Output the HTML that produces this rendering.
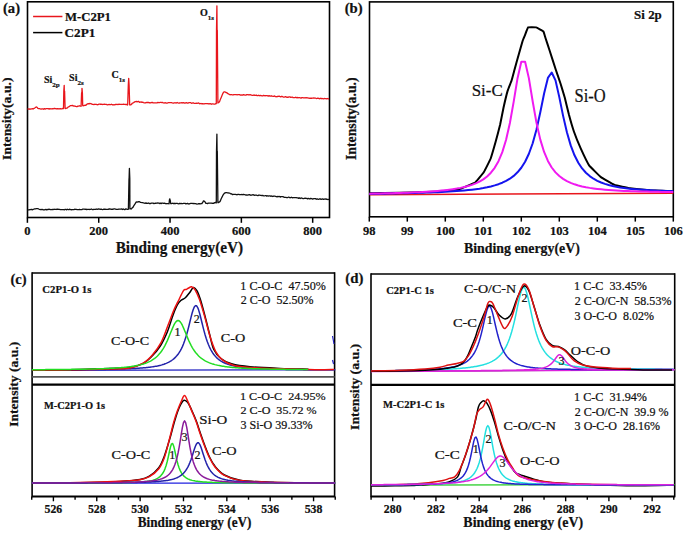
<!DOCTYPE html>
<html><head><meta charset="utf-8"><style>
html,body{margin:0;padding:0;background:#fff;}
svg{display:block;font-family:"Liberation Serif",serif;}
text{fill:#111;stroke:#111;stroke-width:0.22px;}
</style></head><body>
<svg width="685" height="533" viewBox="0 0 685 533">
<rect width="685" height="533" fill="#fff"/>
<rect x="27.5" y="1.8" width="302.0" height="215.7" fill="none" stroke="#000" stroke-width="1.6"/>
<line x1="27.40" y1="217.5" x2="27.40" y2="222.8" stroke="#000" stroke-width="1.5"/>
<text x="27.40" y="234.80" font-size="12.5" font-weight="bold" text-anchor="middle" >0</text>
<line x1="98.72" y1="217.5" x2="98.72" y2="222.8" stroke="#000" stroke-width="1.5"/>
<text x="98.72" y="234.80" font-size="12.5" font-weight="bold" text-anchor="middle" >200</text>
<line x1="170.04" y1="217.5" x2="170.04" y2="222.8" stroke="#000" stroke-width="1.5"/>
<text x="170.04" y="234.80" font-size="12.5" font-weight="bold" text-anchor="middle" >400</text>
<line x1="241.36" y1="217.5" x2="241.36" y2="222.8" stroke="#000" stroke-width="1.5"/>
<text x="241.36" y="234.80" font-size="12.5" font-weight="bold" text-anchor="middle" >600</text>
<line x1="312.68" y1="217.5" x2="312.68" y2="222.8" stroke="#000" stroke-width="1.5"/>
<text x="312.68" y="234.80" font-size="12.5" font-weight="bold" text-anchor="middle" >800</text>
<text x="115.65" y="252.70" font-size="15.91" font-weight="bold" textLength="127.52" lengthAdjust="spacingAndGlyphs">Binding&#160;energy(eV)</text>
<line x1="33.1" y1="16.5" x2="62.4" y2="16.5" stroke="#e8161c" stroke-width="1.5"/>
<line x1="33.1" y1="32.6" x2="62.4" y2="32.6" stroke="#000" stroke-width="1.5"/>
<text x="64.98" y="21.00" font-size="12.42" font-weight="bold" textLength="45.98" lengthAdjust="spacingAndGlyphs">M-C2P1</text>
<text x="64.56" y="36.90" font-size="12.42" font-weight="bold" textLength="30.72" lengthAdjust="spacingAndGlyphs">C2P1</text>
<text x="43.90" y="83.10" font-size="10" font-weight="bold">Si<tspan font-size="7" dy="4">2p</tspan></text>
<text x="69.10" y="81.40" font-size="10" font-weight="bold">Si<tspan font-size="7" dy="4">2s</tspan></text>
<text x="111.60" y="78.30" font-size="10" font-weight="bold">C<tspan font-size="7" dy="4">1s</tspan></text>
<text x="199.90" y="16.40" font-size="10" font-weight="bold">O<tspan font-size="7" dy="4">1s</tspan></text>
<polyline points="27.50,210.10 28.30,209.91 29.10,209.81 29.90,209.53 30.70,209.49 31.50,209.37 32.30,209.79 33.10,209.43 33.90,209.19 34.70,208.78 35.50,208.94 36.30,208.70 37.10,208.57 37.90,208.61 38.70,209.01 39.50,209.38 40.30,209.57 41.10,209.36 41.90,209.56 42.70,209.43 43.50,209.92 44.30,209.93 45.10,209.63 45.90,209.42 46.70,209.92 47.50,209.46 48.30,209.49 49.10,209.24 49.90,209.50 50.70,209.57 51.50,209.58 52.30,209.37 53.10,209.58 53.90,209.23 54.70,209.40 55.50,209.28 56.30,209.49 57.10,209.24 57.90,209.22 58.70,209.41 59.50,209.36 60.30,209.60 61.10,209.56 61.90,209.71 62.70,209.64 63.50,209.68 64.30,209.79 65.10,209.44 65.90,209.39 66.70,209.85 67.50,209.26 68.30,209.66 69.10,209.59 69.90,209.17 70.70,209.72 71.50,209.75 72.30,209.56 73.10,209.63 73.90,209.68 74.70,209.20 75.50,209.47 76.30,209.45 77.10,209.68 77.90,209.65 78.70,209.66 79.50,209.48 80.30,209.69 81.10,209.54 81.90,209.54 82.70,209.21 83.50,209.07 84.30,209.13 85.10,209.29 85.90,209.10 86.70,209.61 87.50,209.41 88.30,209.45 89.10,209.45 89.90,209.48 90.70,209.34 91.50,208.99 92.30,209.54 93.10,209.50 93.90,209.33 94.70,209.35 95.50,209.43 96.30,209.01 97.10,209.47 97.90,209.13 98.70,209.00 99.50,209.13 100.30,209.45 101.10,209.07 101.90,209.44 102.70,209.61 103.50,209.26 104.30,209.18 105.10,209.24 105.90,209.38 106.70,209.44 107.50,209.33 108.30,209.34 109.10,208.94 109.90,208.99 110.70,209.06 111.50,209.40 112.30,209.09 113.10,209.27 113.90,208.88 114.70,208.91 115.50,209.05 116.30,209.33 117.10,209.35 117.90,209.33 118.70,209.06 119.50,209.22 120.30,209.18 121.10,209.18 121.90,208.94 122.70,209.48 123.50,208.99 124.30,209.54 125.10,209.51 125.90,208.86 126.70,209.15 127.50,209.34 128.30,209.35 128.40,208.98 129.00,178.52 129.10,178.52 129.40,168.40 129.80,178.52 129.90,208.91 130.40,208.57 130.70,208.82 131.50,208.98 132.30,207.72 133.10,207.11 133.90,205.56 134.70,204.47 135.50,203.13 136.30,201.94 137.10,202.08 137.90,201.83 138.70,201.62 139.50,201.76 140.30,202.30 141.10,202.48 141.90,202.58 142.70,202.66 143.50,202.96 144.30,203.04 145.10,203.44 145.90,202.85 146.70,203.38 147.50,203.44 148.30,202.94 149.10,203.51 149.90,203.37 150.70,203.50 151.50,203.08 152.30,203.15 153.10,203.17 153.90,203.60 154.70,203.32 155.50,203.17 156.30,203.23 157.10,203.13 157.90,202.98 158.70,203.03 159.50,203.55 160.30,203.18 161.10,203.65 161.90,203.18 162.70,203.20 163.50,203.39 164.30,203.17 165.10,203.31 165.90,203.73 166.70,203.69 167.50,203.66 168.30,203.54 168.80,203.75 169.10,203.77 169.40,199.97 169.80,198.80 169.90,199.97 170.20,199.97 170.70,203.45 170.80,203.66 171.50,203.60 172.30,203.35 173.10,203.20 173.90,203.82 174.70,203.27 175.50,203.52 176.30,203.44 177.10,203.42 177.90,203.73 178.70,203.91 179.50,203.41 180.30,203.69 181.10,203.45 181.90,203.63 182.70,203.52 183.50,203.37 184.30,203.36 185.10,203.40 185.90,203.89 186.70,203.61 187.50,203.42 188.30,203.91 189.10,203.98 189.90,203.62 190.70,203.41 191.50,203.46 192.30,203.41 193.10,203.60 193.90,203.44 194.70,203.56 195.50,203.59 196.30,203.82 197.10,204.05 197.90,203.96 198.70,203.73 199.50,203.74 200.30,203.80 201.10,203.60 201.90,203.49 202.70,202.45 203.50,200.91 204.30,201.10 205.10,201.95 205.90,203.38 206.70,203.48 207.50,203.62 208.30,203.12 209.10,203.11 209.90,203.03 210.70,203.08 211.50,203.05 212.30,203.36 213.10,203.26 213.90,203.26 214.70,202.62 215.50,202.49 215.90,202.88 216.30,202.92 216.50,151.20 216.90,134.10 217.10,151.20 217.30,151.20 217.90,202.63 218.70,202.50 219.50,202.01 220.30,201.02 221.10,199.07 221.90,197.34 222.70,195.71 223.50,194.46 224.30,193.39 225.10,192.90 225.90,192.67 226.70,192.70 227.50,192.93 228.30,192.91 229.10,193.21 229.90,193.11 230.70,193.90 231.50,193.77 232.30,194.48 233.10,194.48 233.90,194.38 234.70,194.33 235.50,194.43 236.30,194.70 237.10,194.75 237.90,194.34 238.70,194.32 239.50,194.65 240.30,194.70 241.10,194.58 241.90,194.48 242.70,194.76 243.50,194.36 244.30,194.59 245.10,194.72 245.90,195.09 246.70,194.90 247.50,195.09 248.30,194.83 249.10,194.69 249.90,194.73 250.70,195.26 251.50,195.11 252.30,194.87 253.10,194.71 253.90,195.08 254.70,195.24 255.50,195.10 256.30,195.03 257.10,195.35 257.90,195.58 258.70,195.13 259.50,195.04 260.30,195.30 261.10,195.40 261.90,195.63 262.70,195.34 263.50,195.81 264.30,195.82 265.10,195.71 265.90,195.55 266.70,196.13 267.50,195.73 268.30,196.14 269.10,195.78 269.90,195.82 270.70,196.26 271.50,195.99 272.30,196.50 273.10,196.24 273.90,196.08 274.70,196.16 275.50,196.35 276.30,196.58 277.10,196.84 277.90,196.34 278.70,196.57 279.50,196.50 280.30,197.09 281.10,196.57 281.90,196.56 282.70,196.62 283.50,196.92 284.30,197.33 285.10,197.38 285.90,197.33 286.70,197.57 287.50,197.58 288.30,197.22 289.10,197.18 289.90,197.76 290.70,197.68 291.50,197.24 292.30,197.74 293.10,197.59 293.90,197.65 294.70,197.67 295.50,197.61 296.30,197.55 297.10,197.79 297.90,197.90 298.70,198.37 299.50,197.84 300.30,198.48 301.10,198.00 301.90,198.15 302.70,198.53 303.50,198.57 304.30,198.35 305.10,198.12 305.90,198.46 306.70,198.44 307.50,198.86 308.30,198.39 309.10,198.55 309.90,198.97 310.70,198.40 311.50,198.70 312.30,199.02 313.10,199.02 313.90,198.54 314.70,198.57 315.50,198.62 316.30,199.25 317.10,198.81 317.90,199.18 318.70,199.31 319.50,198.94 320.30,198.92 321.10,199.42 321.90,199.20 322.70,198.97 323.50,199.30 324.30,199.03 325.10,199.01 325.90,198.83 326.70,199.37 327.50,199.49 328.30,199.29 329.10,199.51" fill="none" stroke="#111" stroke-width="1.3" stroke-linejoin="round" />
<polyline points="27.50,109.08 28.30,108.94 29.10,109.26 29.90,108.82 30.70,109.10 31.50,108.94 32.30,108.70 33.10,109.00 33.90,108.41 34.70,108.16 35.50,107.34 36.30,106.97 37.10,107.28 37.90,108.33 38.70,108.56 39.50,108.71 40.30,108.99 41.10,109.21 41.90,108.95 42.70,108.82 43.50,109.22 44.30,108.57 45.10,109.13 45.90,108.73 46.70,108.62 47.50,108.60 48.30,108.72 49.10,109.07 49.90,108.62 50.70,108.90 51.50,108.93 52.30,108.74 53.10,108.86 53.90,108.51 54.70,108.51 55.50,108.61 56.30,108.93 57.10,108.75 57.90,108.67 58.70,108.86 59.50,108.77 60.30,108.65 61.10,108.95 61.90,108.80 62.70,108.43 63.20,108.65 63.50,108.60 63.80,91.11 64.20,85.30 64.30,91.11 64.60,91.11 65.10,108.18 65.20,108.38 65.90,108.58 66.70,108.01 67.50,107.79 68.30,106.84 69.10,106.59 69.90,106.05 70.70,105.53 71.50,105.67 72.30,105.39 73.10,105.85 73.90,106.00 74.70,106.19 75.50,106.24 76.30,106.53 77.10,106.56 77.90,106.14 78.70,106.19 79.50,105.71 80.30,106.14 81.00,106.07 81.10,106.31 81.60,92.70 81.90,92.70 82.00,88.30 82.40,92.70 82.70,105.52 83.00,105.80 83.50,105.58 84.30,105.51 85.10,105.22 85.90,105.28 86.70,104.31 87.50,103.90 88.30,103.64 89.10,103.86 89.90,103.36 90.70,103.72 91.50,103.94 92.30,104.33 93.10,104.43 93.90,104.58 94.70,104.24 95.50,104.34 96.30,104.30 97.10,104.67 97.90,104.73 98.70,104.16 99.50,104.18 100.30,104.23 101.10,104.23 101.90,104.41 102.70,104.49 103.50,104.27 104.30,104.10 105.10,104.39 105.90,104.37 106.70,104.51 107.50,104.79 108.30,104.61 109.10,104.50 109.90,104.58 110.70,104.63 111.50,104.20 112.30,104.80 113.10,104.72 113.90,104.79 114.70,104.75 115.50,104.47 116.30,104.48 117.10,104.28 117.90,104.66 118.70,104.27 119.50,104.27 120.30,104.38 121.10,104.35 121.90,104.48 122.70,104.28 123.50,104.25 124.30,104.35 125.10,104.32 125.90,104.50 126.70,104.30 127.50,104.99 127.70,104.84 128.30,84.95 128.70,78.30 129.10,84.95 129.70,104.90 129.90,104.74 130.70,104.97 131.50,104.35 132.30,103.25 133.10,102.98 133.90,102.41 134.70,101.88 135.50,101.59 136.30,101.44 137.10,101.87 137.90,101.48 138.70,101.48 139.50,102.25 140.30,102.09 141.10,101.95 141.90,102.36 142.70,102.11 143.50,102.55 144.30,102.92 145.10,102.85 145.90,102.74 146.70,102.43 147.50,102.51 148.30,102.37 149.10,102.80 149.90,102.63 150.70,102.81 151.50,102.49 152.30,102.42 153.10,102.84 153.90,102.96 154.70,102.88 155.50,102.85 156.30,102.86 157.10,102.81 157.90,102.46 158.70,102.67 159.50,102.56 160.30,102.34 161.10,102.34 161.90,102.52 162.70,102.51 163.50,102.82 164.30,103.01 165.10,102.66 165.90,103.01 166.70,103.05 167.50,103.04 168.30,102.63 169.10,102.53 169.90,102.54 170.70,102.53 171.50,102.54 172.30,102.84 173.10,103.04 173.90,103.00 174.70,102.75 175.50,102.88 176.30,102.99 177.10,102.49 177.90,102.90 178.70,103.07 179.50,102.99 180.30,102.97 181.10,102.78 181.90,102.57 182.70,103.00 183.50,102.68 184.30,103.01 185.10,103.13 185.90,102.73 186.70,102.74 187.50,103.14 188.30,103.00 189.10,102.63 189.90,102.63 190.70,102.68 191.50,103.24 192.30,103.20 193.10,102.78 193.90,103.30 194.70,103.45 195.50,103.27 196.30,103.10 197.10,103.29 197.90,103.04 198.70,103.01 199.50,103.73 200.30,103.55 201.10,103.52 201.90,103.85 202.70,103.55 203.50,103.90 204.30,103.92 205.10,103.53 205.90,103.60 206.70,103.67 207.50,103.66 208.30,103.94 209.10,103.74 209.90,103.88 210.70,103.70 211.50,104.26 212.30,103.89 213.10,103.97 213.90,104.06 214.70,104.22 215.50,103.69 215.90,103.92 216.30,103.51 216.50,30.19 216.90,5.80 217.10,30.19 217.30,30.19 217.90,102.98 218.70,102.47 219.50,101.82 220.30,99.61 221.10,97.75 221.90,95.82 222.70,93.83 223.50,92.29 224.30,91.82 225.10,91.96 225.90,92.49 226.70,92.55 227.50,93.47 228.30,93.81 229.10,94.25 229.90,94.79 230.70,94.61 231.50,94.65 232.30,94.79 233.10,94.90 233.90,94.58 234.70,94.70 235.50,94.64 236.30,94.65 237.10,94.79 237.90,94.64 238.70,94.71 239.50,94.69 240.30,95.03 241.10,94.88 241.90,95.02 242.70,95.09 243.50,94.63 244.30,94.87 245.10,95.16 245.90,95.11 246.70,94.65 247.50,94.66 248.30,94.92 249.10,94.69 249.90,94.83 250.70,94.75 251.50,95.20 252.30,95.31 253.10,95.42 253.90,94.94 254.70,95.37 255.50,95.37 256.30,95.04 257.10,95.60 257.90,95.69 258.70,95.21 259.50,95.76 260.30,95.42 261.10,95.52 261.90,95.91 262.70,95.84 263.50,95.42 264.30,95.65 265.10,95.75 265.90,95.67 266.70,95.62 267.50,95.75 268.30,96.08 269.10,95.63 269.90,96.05 270.70,96.02 271.50,95.77 272.30,96.04 273.10,96.29 273.90,96.26 274.70,95.99 275.50,96.68 276.30,96.59 277.10,96.77 277.90,96.21 278.70,96.37 279.50,96.26 280.30,96.83 281.10,96.52 281.90,96.47 282.70,96.72 283.50,97.11 284.30,97.10 285.10,96.75 285.90,96.72 286.70,97.31 287.50,97.11 288.30,97.25 289.10,96.87 289.90,96.89 290.70,97.38 291.50,97.24 292.30,97.04 293.10,97.69 293.90,97.52 294.70,97.69 295.50,97.23 296.30,97.81 297.10,97.30 297.90,97.90 298.70,97.66 299.50,97.62 300.30,97.81 301.10,98.11 301.90,97.68 302.70,97.63 303.50,97.94 304.30,97.78 305.10,97.72 305.90,97.79 306.70,97.75 307.50,97.89 308.30,98.00 309.10,98.03 309.90,98.38 310.70,98.08 311.50,98.25 312.30,98.06 313.10,98.20 313.90,98.00 314.70,98.19 315.50,98.05 316.30,98.57 317.10,98.46 317.90,98.23 318.70,98.45 319.50,98.79 320.30,98.23 321.10,98.74 321.90,98.49 322.70,98.54 323.50,98.79 324.30,98.49 325.10,98.58 325.90,98.72 326.70,98.93 327.50,98.49 328.30,98.83 329.10,98.74" fill="none" stroke="#e8161c" stroke-width="1.3" stroke-linejoin="round" />
<rect x="369.5" y="1.9" width="303.79999999999995" height="214.9" fill="none" stroke="#000" stroke-width="1.6"/>
<line x1="369.30" y1="216.8" x2="369.30" y2="221.60000000000002" stroke="#000" stroke-width="1.5"/>
<text x="369.30" y="234.80" font-size="12.5" font-weight="bold" text-anchor="middle" >98</text>
<line x1="407.30" y1="216.8" x2="407.30" y2="221.60000000000002" stroke="#000" stroke-width="1.5"/>
<text x="407.30" y="234.80" font-size="12.5" font-weight="bold" text-anchor="middle" >99</text>
<line x1="445.30" y1="216.8" x2="445.30" y2="221.60000000000002" stroke="#000" stroke-width="1.5"/>
<text x="445.30" y="234.80" font-size="12.5" font-weight="bold" text-anchor="middle" >100</text>
<line x1="483.30" y1="216.8" x2="483.30" y2="221.60000000000002" stroke="#000" stroke-width="1.5"/>
<text x="483.30" y="234.80" font-size="12.5" font-weight="bold" text-anchor="middle" >101</text>
<line x1="521.30" y1="216.8" x2="521.30" y2="221.60000000000002" stroke="#000" stroke-width="1.5"/>
<text x="521.30" y="234.80" font-size="12.5" font-weight="bold" text-anchor="middle" >102</text>
<line x1="559.30" y1="216.8" x2="559.30" y2="221.60000000000002" stroke="#000" stroke-width="1.5"/>
<text x="559.30" y="234.80" font-size="12.5" font-weight="bold" text-anchor="middle" >103</text>
<line x1="597.30" y1="216.8" x2="597.30" y2="221.60000000000002" stroke="#000" stroke-width="1.5"/>
<text x="597.30" y="234.80" font-size="12.5" font-weight="bold" text-anchor="middle" >104</text>
<line x1="635.30" y1="216.8" x2="635.30" y2="221.60000000000002" stroke="#000" stroke-width="1.5"/>
<text x="635.30" y="234.80" font-size="12.5" font-weight="bold" text-anchor="middle" >105</text>
<line x1="673.30" y1="216.8" x2="673.30" y2="221.60000000000002" stroke="#000" stroke-width="1.5"/>
<text x="673.30" y="234.80" font-size="12.5" font-weight="bold" text-anchor="middle" >106</text>
<text x="463.97" y="252.80" font-size="14.85" font-weight="bold" textLength="115.84" lengthAdjust="spacingAndGlyphs">Binding&#160;energy(eV)</text>
<text x="634.11" y="19.20" font-size="13.18" font-weight="bold" textLength="27.71" lengthAdjust="spacingAndGlyphs">Si&#160;2p</text>
<text x="471.67" y="95.80" font-size="17.27" font-weight="normal" textLength="31.07" lengthAdjust="spacingAndGlyphs">Si-C</text>
<text x="574.50" y="101.80" font-size="18.48" font-weight="normal" textLength="31.18" lengthAdjust="spacingAndGlyphs">Si-O</text>
<line x1="369.5" y1="194.8" x2="673.3" y2="193.2" stroke="#e8161c" stroke-width="1.6"/>
<path d="M369.50,193.30 C370.72,193.28 397.18,192.87 400.00,192.80 C402.82,192.73 437.59,191.66 440.00,191.50 C442.41,191.34 458.88,189.27 460.30,188.90 C461.72,188.53 474.56,182.88 475.50,182.20 C476.44,181.52 483.29,172.95 483.90,172.00 C484.51,171.05 490.23,159.72 490.70,158.50 C491.17,157.28 495.32,142.95 495.70,141.60 C496.08,140.25 499.79,126.05 500.10,124.70 C500.41,123.35 503.20,109.15 503.50,107.80 C503.80,106.45 507.28,91.98 507.60,90.90 C507.92,89.82 511.22,81.65 511.50,80.80 C511.78,79.95 514.22,70.73 514.50,69.70 C514.78,68.67 518.28,56.15 518.60,55.00 C518.92,53.85 522.35,41.78 522.60,41.00 C522.85,40.22 524.58,36.14 524.80,35.60 C525.02,35.06 527.65,27.73 528.10,27.40 C528.55,27.07 535.49,27.24 536.10,27.40 C536.71,27.56 543.03,31.09 543.40,31.50 C543.77,31.91 545.15,36.94 545.40,37.70 C545.65,38.46 549.18,49.22 549.60,50.50 C550.02,51.78 555.36,68.38 555.80,69.70 C556.24,71.02 560.14,82.38 560.50,83.50 C560.86,84.62 564.46,96.46 564.80,97.70 C565.14,98.94 568.54,113.25 568.90,114.60 C569.26,115.95 573.43,130.15 573.90,131.50 C574.37,132.85 580.09,147.05 580.70,148.40 C581.31,149.75 588.29,164.15 589.10,165.30 C589.91,166.45 599.88,176.32 600.90,177.10 C601.92,177.88 613.34,184.46 614.50,184.90 C615.66,185.34 628.58,187.99 630.00,188.20 C631.42,188.41 648.28,190.08 650.00,190.20 C651.72,190.32 672.08,191.16 673.00,191.20" fill="none" stroke="#000" stroke-width="2.0" stroke-linejoin="round"/>
<polyline points="369.30,193.90 373.10,193.84 376.90,193.78 380.70,193.71 384.50,193.64 388.30,193.57 392.10,193.50 395.90,193.42 399.70,193.34 403.50,193.25 407.30,193.16 411.10,193.06 414.90,192.96 418.70,192.85 422.50,192.73 426.30,192.60 430.10,192.46 433.90,192.31 437.70,192.15 441.50,191.97 445.30,191.77 449.10,191.56 452.90,191.32 456.70,191.06 460.50,190.77 464.30,190.44 468.10,190.07 471.90,189.66 475.70,189.18 479.50,188.64 483.30,188.01 487.10,187.28 490.90,186.42 494.70,185.40 498.50,184.18 502.30,182.71 506.10,180.92 509.90,178.69 513.70,175.90 517.50,172.34 521.30,167.74 525.10,161.73 528.90,153.78 532.70,143.23 536.50,129.45 540.30,112.33 544.10,93.52 547.90,77.91 551.70,72.51 555.50,80.39 559.30,97.15 563.10,115.86 566.90,132.32 570.70,145.38 574.50,155.31 578.30,162.79 582.10,168.44 585.90,172.76 589.70,176.10 593.50,178.73 597.30,180.82 601.10,182.51 604.90,183.88 608.70,185.01 612.50,185.96 616.30,186.75 620.10,187.42 623.90,187.99 627.70,188.48 631.50,188.90 635.30,189.26 639.10,189.58 642.90,189.86 646.70,190.11 650.50,190.33 654.30,190.52 658.10,190.69 661.90,190.84 665.70,190.98 669.50,191.10 673.30,191.20" fill="none" stroke="#1414ee" stroke-width="2.0" stroke-linejoin="round" />
<polyline points="369.30,193.69 373.10,193.61 376.90,193.53 380.70,193.44 384.50,193.35 388.30,193.25 392.10,193.15 395.90,193.04 399.70,192.92 403.50,192.79 407.30,192.65 411.10,192.50 414.90,192.33 418.70,192.15 422.50,191.95 426.30,191.72 430.10,191.48 433.90,191.20 437.70,190.90 441.50,190.55 445.30,190.15 449.10,189.70 452.90,189.18 456.70,188.58 460.50,187.88 464.30,187.04 468.10,186.05 471.90,184.86 475.70,183.40 479.50,181.59 483.30,179.33 487.10,176.45 490.90,172.72 494.70,167.79 498.50,161.18 502.30,152.16 506.10,139.79 509.90,123.02 513.70,101.63 517.50,78.42 521.30,61.81 525.10,61.79 528.90,78.36 532.70,101.53 536.50,122.88 540.30,139.61 544.10,151.94 547.90,160.92 551.70,167.49 555.50,172.38 559.30,176.07 563.10,178.91 566.90,181.13 570.70,182.90 574.50,184.32 578.30,185.47 582.10,186.42 585.90,187.22 589.70,187.88 593.50,188.44 597.30,188.92 601.10,189.33 604.90,189.69 608.70,190.00 612.50,190.26 616.30,190.50 620.10,190.70 623.90,190.89 627.70,191.05 631.50,191.19 635.30,191.32 639.10,191.43 642.90,191.53 646.70,191.62 650.50,191.70 654.30,191.77 658.10,191.83 661.90,191.89 665.70,191.94 669.50,191.99 673.30,192.03" fill="none" stroke="#f01af0" stroke-width="2.0" stroke-linejoin="round" />
<line x1="32.1" y1="273.0" x2="334.6" y2="273.0" stroke="#000" stroke-width="1.6"/>
<line x1="32.1" y1="272.2" x2="32.1" y2="497.3" stroke="#000" stroke-width="1.6"/>
<line x1="334.6" y1="272.2" x2="334.6" y2="497.3" stroke="#000" stroke-width="1.6"/>
<line x1="32.1" y1="496.5" x2="334.6" y2="496.5" stroke="#000" stroke-width="1.8"/>
<line x1="32.1" y1="376.9" x2="334.6" y2="376.9" stroke="#555" stroke-width="1.6"/>
<line x1="32.1" y1="384.7" x2="334.6" y2="384.7" stroke="#000" stroke-width="2.2"/>
<line x1="31.72" y1="496.5" x2="31.72" y2="499.7" stroke="#000" stroke-width="1.4"/>
<line x1="53.40" y1="496.5" x2="53.40" y2="501.3" stroke="#000" stroke-width="1.4"/>
<text x="0" y="0" font-size="11.8" font-weight="bold" text-anchor="middle" transform="translate(53.40,512.7) scale(1,1.06)">526</text>
<line x1="75.08" y1="496.5" x2="75.08" y2="499.7" stroke="#000" stroke-width="1.4"/>
<line x1="96.76" y1="496.5" x2="96.76" y2="501.3" stroke="#000" stroke-width="1.4"/>
<text x="0" y="0" font-size="11.8" font-weight="bold" text-anchor="middle" transform="translate(96.76,512.7) scale(1,1.06)">528</text>
<line x1="118.44" y1="496.5" x2="118.44" y2="499.7" stroke="#000" stroke-width="1.4"/>
<line x1="140.12" y1="496.5" x2="140.12" y2="501.3" stroke="#000" stroke-width="1.4"/>
<text x="0" y="0" font-size="11.8" font-weight="bold" text-anchor="middle" transform="translate(140.12,512.7) scale(1,1.06)">530</text>
<line x1="161.80" y1="496.5" x2="161.80" y2="499.7" stroke="#000" stroke-width="1.4"/>
<line x1="183.48" y1="496.5" x2="183.48" y2="501.3" stroke="#000" stroke-width="1.4"/>
<text x="0" y="0" font-size="11.8" font-weight="bold" text-anchor="middle" transform="translate(183.48,512.7) scale(1,1.06)">532</text>
<line x1="205.16" y1="496.5" x2="205.16" y2="499.7" stroke="#000" stroke-width="1.4"/>
<line x1="226.84" y1="496.5" x2="226.84" y2="501.3" stroke="#000" stroke-width="1.4"/>
<text x="0" y="0" font-size="11.8" font-weight="bold" text-anchor="middle" transform="translate(226.84,512.7) scale(1,1.06)">534</text>
<line x1="248.52" y1="496.5" x2="248.52" y2="499.7" stroke="#000" stroke-width="1.4"/>
<line x1="270.20" y1="496.5" x2="270.20" y2="501.3" stroke="#000" stroke-width="1.4"/>
<text x="0" y="0" font-size="11.8" font-weight="bold" text-anchor="middle" transform="translate(270.20,512.7) scale(1,1.06)">536</text>
<line x1="291.88" y1="496.5" x2="291.88" y2="499.7" stroke="#000" stroke-width="1.4"/>
<line x1="313.56" y1="496.5" x2="313.56" y2="501.3" stroke="#000" stroke-width="1.4"/>
<text x="0" y="0" font-size="11.8" font-weight="bold" text-anchor="middle" transform="translate(313.56,512.7) scale(1,1.06)">538</text>
<line x1="335.24" y1="496.5" x2="335.24" y2="499.7" stroke="#000" stroke-width="1.4"/>
<text x="137.78" y="527.20" font-size="13.94" font-weight="bold" textLength="113.70" lengthAdjust="spacingAndGlyphs">Binding&#160;energy&#160;(eV)</text>
<text x="42.38" y="292.70" font-size="10.61" font-weight="bold" textLength="48.98" lengthAdjust="spacingAndGlyphs">C2P1-O&#160;1s</text>
<text x="43.92" y="408.80" font-size="10.61" font-weight="bold" textLength="61.03" lengthAdjust="spacingAndGlyphs">M-C2P1-O&#160;1s</text>
<text x="240.34" y="289.60" font-size="12.73" font-weight="normal" textLength="85.48" lengthAdjust="spacingAndGlyphs">1&#160;C-O-C&#160;&#160;47.50%</text>
<text x="240.87" y="303.90" font-size="12.27" font-weight="normal" textLength="72.54" lengthAdjust="spacingAndGlyphs">2&#160;C-O&#160;&#160;52.50%</text>
<line x1="32.1" y1="370.3" x2="333.6" y2="369.8" stroke="#2020c0" stroke-width="1.3"/>
<polyline points="31.72,369.95 32.80,369.95 33.89,369.94 34.97,369.94 36.06,369.94 37.14,369.93 38.22,369.93 39.31,369.93 40.39,369.92 41.48,369.92 42.56,369.92 43.64,369.91 44.73,369.91 45.81,369.90 46.90,369.90 47.98,369.89 49.06,369.89 50.15,369.89 51.23,369.88 52.32,369.88 53.40,369.87 54.48,369.87 55.57,369.86 56.65,369.86 57.74,369.85 58.82,369.84 59.90,369.84 60.99,369.83 62.07,369.83 63.16,369.82 64.24,369.81 65.32,369.81 66.41,369.80 67.49,369.79 68.58,369.79 69.66,369.78 70.74,369.77 71.83,369.77 72.91,369.76 74.00,369.75 75.08,369.74 76.16,369.73 77.25,369.73 78.33,369.72 79.42,369.71 80.50,369.70 81.58,369.69 82.67,369.68 83.75,369.67 84.84,369.66 85.92,369.65 87.00,369.64 88.09,369.63 89.17,369.61 90.26,369.60 91.34,369.59 92.42,369.58 93.51,369.56 94.59,369.55 95.68,369.54 96.76,369.52 97.84,369.51 98.93,369.49 100.01,369.48 101.10,369.46 102.18,369.44 103.26,369.43 104.35,369.41 105.43,369.39 106.52,369.37 107.60,369.35 108.68,369.33 109.77,369.31 110.85,369.28 111.94,369.26 113.02,369.24 114.10,369.21 115.19,369.18 116.27,369.16 117.36,369.13 118.44,369.10 119.52,369.07 120.61,369.03 121.69,369.00 122.78,368.97 123.86,368.93 124.94,368.89 126.03,368.85 127.11,368.81 128.20,368.76 129.28,368.72 130.36,368.67 131.45,368.62 132.53,368.57 133.62,368.51 134.70,368.45 135.78,368.39 136.87,368.32 137.95,368.26 139.04,368.18 140.12,368.11 141.20,368.03 142.29,367.94 143.37,367.85 144.46,367.75 145.54,367.65 146.62,367.54 147.71,367.42 148.79,367.30 149.88,367.17 150.96,367.03 152.04,366.88 153.13,366.72 154.21,366.54 155.30,366.36 156.38,366.15 157.46,365.94 158.55,365.70 159.63,365.45 160.72,365.18 161.80,364.88 162.88,364.55 163.97,364.20 165.05,363.81 166.14,363.39 167.22,362.92 168.30,362.41 169.39,361.84 170.47,361.21 171.56,360.51 172.64,359.74 173.72,358.87 174.81,357.90 175.89,356.81 176.98,355.58 178.06,354.20 179.14,352.64 180.23,350.87 181.31,348.86 182.40,346.59 183.48,344.01 184.56,341.11 185.65,337.85 186.73,334.23 187.82,330.26 188.90,325.99 189.98,321.55 191.07,317.13 192.15,312.99 193.24,309.46 194.32,306.90 195.40,305.62 196.49,305.76 197.57,307.32 198.66,310.10 199.74,313.78 200.82,318.00 201.91,322.45 202.99,326.86 204.08,331.08 205.16,334.98 206.24,338.53 207.33,341.72 208.41,344.55 209.50,347.07 210.58,349.28 211.66,351.24 212.75,352.97 213.83,354.49 214.92,355.84 216.00,357.04 217.08,358.10 218.17,359.05 219.25,359.90 220.34,360.66 221.42,361.34 222.50,361.96 223.59,362.51 224.67,363.02 225.76,363.48 226.84,363.89 227.92,364.27 229.01,364.62 230.09,364.94 231.18,365.23 232.26,365.50 233.34,365.75 234.43,365.98 235.51,366.20 236.60,366.39 237.68,366.58 238.76,366.75 239.85,366.91 240.93,367.06 242.02,367.20 243.10,367.33 244.18,367.45 245.27,367.56 246.35,367.67 247.44,367.77 248.52,367.87 249.60,367.96 250.69,368.04 251.77,368.12 252.86,368.20 253.94,368.27 255.02,368.34 256.11,368.40 257.19,368.46 258.28,368.52 259.36,368.58 260.44,368.63 261.53,368.68 262.61,368.73 263.70,368.77 264.78,368.82 265.86,368.86 266.95,368.90 268.03,368.94 269.12,368.97 270.20,369.01 271.28,369.04 272.37,369.07 273.45,369.10 274.54,369.13 275.62,369.16 276.70,369.19 277.79,369.21 278.87,369.24 279.96,369.26 281.04,369.29 282.12,369.31 283.21,369.33 284.29,369.35 285.38,369.37 286.46,369.39 287.54,369.41 288.63,369.43 289.71,369.45 290.80,369.46 291.88,369.48 292.96,369.50 294.05,369.51 295.13,369.53 296.22,369.54 297.30,369.55 298.38,369.57 299.47,369.58 300.55,369.59 301.64,369.61 302.72,369.62 303.80,369.63 304.89,369.64 305.97,369.65 307.06,369.66 308.14,369.67 309.22,369.68 310.31,369.69 311.39,369.70 312.48,369.71 313.56,369.72 314.64,369.73 315.73,369.74 316.81,369.74 317.90,369.75 318.98,369.76 320.06,369.77 321.15,369.78 322.23,369.78 323.32,369.79 324.40,369.80 325.48,369.80 326.57,369.81 327.65,369.82 328.74,369.82 329.82,369.83 330.90,369.83 331.99,369.84 333.07,369.85 334.16,369.85 335.24,369.86" fill="none" stroke="#2222aa" stroke-width="1.5" stroke-linejoin="round" />
<path d="M32.10,370.20 C36.75,370.15 48.68,370.13 60.00,369.90 C71.32,369.67 88.33,369.22 100.00,368.80 C111.67,368.38 122.92,368.23 130.00,367.40 C137.08,366.57 138.93,365.58 142.50,363.80 C146.07,362.02 148.43,359.67 151.40,356.70 C154.37,353.73 157.63,350.17 160.30,346.00 C162.97,341.83 165.32,336.75 167.40,331.70 C169.48,326.65 171.15,320.15 172.80,315.70 C174.45,311.25 175.97,307.53 177.30,305.00 C178.63,302.47 179.47,301.70 180.80,300.50 C182.13,299.30 183.82,299.13 185.30,297.80 C186.78,296.47 188.37,294.22 189.70,292.50 C191.03,290.78 192.10,287.80 193.30,287.50 C194.50,287.20 195.72,288.68 196.90,290.70 C198.08,292.72 199.07,295.43 200.40,299.60 C201.73,303.77 203.40,310.05 204.90,315.70 C206.40,321.35 207.92,327.87 209.40,333.50 C210.88,339.13 211.88,345.33 213.80,349.50 C215.72,353.67 217.93,356.12 220.90,358.50 C223.87,360.88 226.75,362.42 231.60,363.80 C236.45,365.18 241.93,366.03 250.00,366.80 C258.07,367.57 270.25,368.00 280.00,368.40 C289.75,368.80 303.75,369.07 308.50,369.20" fill="none" stroke="#000" stroke-width="1.5" stroke-linejoin="round"/>
<path d="M32.10,370.10 C36.75,370.08 48.68,370.13 60.00,370.00 C71.32,369.87 88.33,369.65 100.00,369.30 C111.67,368.95 122.75,368.97 130.00,367.90 C137.25,366.83 139.77,365.07 143.50,362.90 C147.23,360.73 149.45,358.32 152.40,354.90 C155.35,351.48 158.55,347.45 161.20,342.40 C163.85,337.35 166.20,329.95 168.30,324.60 C170.40,319.25 172.17,314.17 173.80,310.30 C175.43,306.43 176.48,304.67 178.10,301.40 C179.72,298.13 182.18,292.68 183.50,290.70 C184.82,288.72 185.12,289.95 186.00,289.50 C186.88,289.05 187.88,288.45 188.80,288.00 C189.72,287.55 190.45,286.50 191.50,286.80 C192.55,287.10 193.77,287.67 195.10,289.80 C196.43,291.93 197.87,295.00 199.50,299.60 C201.13,304.20 203.12,311.15 204.90,317.40 C206.68,323.65 208.42,331.45 210.20,337.10 C211.98,342.75 213.52,347.45 215.60,351.30 C217.68,355.15 219.73,357.88 222.70,360.20 C225.67,362.52 228.85,363.98 233.40,365.20 C237.95,366.42 242.23,366.90 250.00,367.50 C257.77,368.10 270.25,368.48 280.00,368.80 C289.75,369.12 301.83,369.23 308.50,369.40 C315.17,369.57 315.75,369.78 320.00,369.80 C324.25,369.82 331.67,369.55 334.00,369.50" fill="none" stroke="#ee1111" stroke-width="1.5" stroke-linejoin="round"/>
<polyline points="31.72,369.71 32.80,369.71 33.89,369.70 34.97,369.69 36.06,369.69 37.14,369.68 38.22,369.67 39.31,369.67 40.39,369.66 41.48,369.65 42.56,369.65 43.64,369.64 44.73,369.63 45.81,369.62 46.90,369.62 47.98,369.61 49.06,369.60 50.15,369.59 51.23,369.58 52.32,369.57 53.40,369.57 54.48,369.56 55.57,369.55 56.65,369.54 57.74,369.53 58.82,369.52 59.90,369.51 60.99,369.50 62.07,369.48 63.16,369.47 64.24,369.46 65.32,369.45 66.41,369.44 67.49,369.42 68.58,369.41 69.66,369.40 70.74,369.38 71.83,369.37 72.91,369.35 74.00,369.34 75.08,369.32 76.16,369.30 77.25,369.29 78.33,369.27 79.42,369.25 80.50,369.23 81.58,369.21 82.67,369.19 83.75,369.17 84.84,369.15 85.92,369.13 87.00,369.11 88.09,369.08 89.17,369.06 90.26,369.03 91.34,369.01 92.42,368.98 93.51,368.95 94.59,368.92 95.68,368.89 96.76,368.86 97.84,368.83 98.93,368.79 100.01,368.76 101.10,368.72 102.18,368.68 103.26,368.64 104.35,368.60 105.43,368.56 106.52,368.51 107.60,368.47 108.68,368.42 109.77,368.36 110.85,368.31 111.94,368.25 113.02,368.19 114.10,368.13 115.19,368.06 116.27,367.99 117.36,367.92 118.44,367.85 119.52,367.77 120.61,367.68 121.69,367.59 122.78,367.50 123.86,367.40 124.94,367.29 126.03,367.18 127.11,367.06 128.20,366.94 129.28,366.81 130.36,366.67 131.45,366.52 132.53,366.36 133.62,366.19 134.70,366.00 135.78,365.81 136.87,365.60 137.95,365.38 139.04,365.14 140.12,364.88 141.20,364.61 142.29,364.31 143.37,363.98 144.46,363.64 145.54,363.26 146.62,362.85 147.71,362.40 148.79,361.92 149.88,361.39 150.96,360.81 152.04,360.18 153.13,359.49 154.21,358.73 155.30,357.89 156.38,356.97 157.46,355.96 158.55,354.84 159.63,353.60 160.72,352.24 161.80,350.74 162.88,349.09 163.97,347.28 165.05,345.30 166.14,343.15 167.22,340.83 168.30,338.36 169.39,335.76 170.47,333.09 171.56,330.42 172.64,327.84 173.72,325.46 174.81,323.42 175.89,321.84 176.98,320.84 178.06,320.50 179.14,320.84 180.23,321.84 181.31,323.42 182.40,325.46 183.48,327.84 184.56,330.42 185.65,333.09 186.73,335.76 187.82,338.36 188.90,340.83 189.98,343.15 191.07,345.30 192.15,347.28 193.24,349.09 194.32,350.74 195.40,352.24 196.49,353.60 197.57,354.84 198.66,355.96 199.74,356.97 200.82,357.89 201.91,358.73 202.99,359.49 204.08,360.18 205.16,360.81 206.24,361.39 207.33,361.92 208.41,362.40 209.50,362.85 210.58,363.26 211.66,363.64 212.75,363.98 213.83,364.31 214.92,364.61 216.00,364.88 217.08,365.14 218.17,365.38 219.25,365.60 220.34,365.81 221.42,366.00 222.50,366.19 223.59,366.36 224.67,366.52 225.76,366.67 226.84,366.81 227.92,366.94 229.01,367.06 230.09,367.18 231.18,367.29 232.26,367.40 233.34,367.50 234.43,367.59 235.51,367.68 236.60,367.77 237.68,367.85 238.76,367.92 239.85,367.99 240.93,368.06 242.02,368.13 243.10,368.19 244.18,368.25 245.27,368.31 246.35,368.36 247.44,368.42 248.52,368.47 249.60,368.51 250.69,368.56 251.77,368.60 252.86,368.64 253.94,368.68 255.02,368.72 256.11,368.76 257.19,368.79 258.28,368.83 259.36,368.86 260.44,368.89 261.53,368.92 262.61,368.95 263.70,368.98 264.78,369.01 265.86,369.03 266.95,369.06 268.03,369.08 269.12,369.11 270.20,369.13 271.28,369.15 272.37,369.17 273.45,369.19 274.54,369.21 275.62,369.23 276.70,369.25 277.79,369.27 278.87,369.29 279.96,369.30 281.04,369.32 282.12,369.34 283.21,369.35 284.29,369.37 285.38,369.38 286.46,369.40 287.54,369.41 288.63,369.42 289.71,369.44 290.80,369.45 291.88,369.46 292.96,369.47 294.05,369.48 295.13,369.50 296.22,369.51 297.30,369.52 298.38,369.53 299.47,369.54 300.55,369.55 301.64,369.56 302.72,369.57 303.80,369.57 304.89,369.58 305.97,369.59 307.06,369.60 308.14,369.61" fill="none" stroke="#22dd22" stroke-width="1.5" stroke-linejoin="round" />
<text x="177.60" y="336.00" font-size="12" font-weight="normal" text-anchor="middle" fill="#333">1</text>
<text x="196.80" y="323.20" font-size="12" font-weight="normal" text-anchor="middle" fill="#333">2</text>
<text x="110.92" y="345.40" font-size="13.48" font-weight="normal" textLength="38.25" lengthAdjust="spacingAndGlyphs">C-O-C</text>
<text x="220.72" y="341.90" font-size="13.03" font-weight="normal" textLength="24.47" lengthAdjust="spacingAndGlyphs">C-O</text>
<polyline points="332.5,336 334,344" fill="none" stroke="#2020c0" stroke-width="1.2"/>
<polyline points="332.5,360 333.6,364" fill="none" stroke="#2020c0" stroke-width="1.2"/>
<text x="240.03" y="399.90" font-size="11.36" font-weight="normal" textLength="85.58" lengthAdjust="spacingAndGlyphs">1&#160;C-O-C&#160;&#160;24.95%</text>
<text x="240.57" y="414.40" font-size="11.36" font-weight="normal" textLength="75.94" lengthAdjust="spacingAndGlyphs">2&#160;C-O&#160;&#160;35.72&#160;%</text>
<text x="240.52" y="428.80" font-size="11.97" font-weight="normal" textLength="71.99" lengthAdjust="spacingAndGlyphs">3&#160;Si-O&#160;39.33%</text>
<line x1="32.1" y1="483.2" x2="334.6" y2="483.0" stroke="#2020e0" stroke-width="1.3"/>
<path d="M32.10,483.10 C40.08,483.05 65.35,483.07 80.00,482.80 C94.65,482.53 110.00,482.05 120.00,481.50 C130.00,480.95 135.10,480.38 140.00,479.50 C144.90,478.62 146.27,478.15 149.40,476.20 C152.53,474.25 156.30,471.17 158.80,467.80 C161.30,464.43 162.53,460.97 164.40,456.00 C166.27,451.03 168.43,443.33 170.00,438.00 C171.57,432.67 172.55,428.33 173.80,424.00 C175.05,419.67 176.30,415.33 177.50,412.00 C178.70,408.67 179.92,405.97 181.00,404.00 C182.08,402.03 182.87,400.45 184.00,400.20 C185.13,399.95 186.53,400.87 187.80,402.50 C189.07,404.13 190.18,406.92 191.60,410.00 C193.02,413.08 194.90,417.33 196.30,421.00 C197.70,424.67 198.60,427.95 200.00,432.00 C201.40,436.05 203.13,441.17 204.70,445.30 C206.27,449.43 207.68,453.30 209.40,456.80 C211.12,460.30 212.50,463.27 215.00,466.30 C217.50,469.33 220.23,472.67 224.40,475.00 C228.57,477.33 232.40,479.10 240.00,480.30 C247.60,481.50 254.33,481.73 270.00,482.20 C285.67,482.67 323.33,482.95 334.00,483.10" fill="none" stroke="#000" stroke-width="1.5" stroke-linejoin="round"/>
<path d="M32.10,483.00 C40.08,482.93 65.35,482.88 80.00,482.60 C94.65,482.32 110.00,481.78 120.00,481.30 C130.00,480.82 135.10,480.47 140.00,479.70 C144.90,478.93 146.27,478.52 149.40,476.70 C152.53,474.88 156.30,472.00 158.80,468.80 C161.30,465.60 162.53,462.82 164.40,457.50 C166.27,452.18 168.43,442.83 170.00,436.90 C171.57,430.97 172.55,426.28 173.80,421.90 C175.05,417.52 176.25,414.03 177.50,410.60 C178.75,407.17 180.13,403.80 181.30,401.30 C182.47,398.80 183.42,395.60 184.50,395.60 C185.58,395.60 186.62,398.80 187.80,401.30 C188.98,403.80 190.18,407.17 191.60,410.60 C193.02,414.03 194.90,418.13 196.30,421.90 C197.70,425.67 198.60,429.13 200.00,433.20 C201.40,437.27 203.13,442.25 204.70,446.30 C206.27,450.35 207.68,454.07 209.40,457.50 C211.12,460.93 212.50,463.92 215.00,466.90 C217.50,469.88 220.23,473.15 224.40,475.40 C228.57,477.65 232.40,479.27 240.00,480.40 C247.60,481.53 254.33,481.77 270.00,482.20 C285.67,482.63 323.33,482.87 334.00,483.00" fill="none" stroke="#ee1111" stroke-width="1.5" stroke-linejoin="round"/>
<polyline points="31.72,483.04 32.80,483.04 33.89,483.04 34.97,483.04 36.06,483.04 37.14,483.04 38.22,483.03 39.31,483.03 40.39,483.03 41.48,483.03 42.56,483.03 43.64,483.03 44.73,483.03 45.81,483.03 46.90,483.03 47.98,483.02 49.06,483.02 50.15,483.02 51.23,483.02 52.32,483.02 53.40,483.02 54.48,483.02 55.57,483.01 56.65,483.01 57.74,483.01 58.82,483.01 59.90,483.01 60.99,483.01 62.07,483.00 63.16,483.00 64.24,483.00 65.32,483.00 66.41,483.00 67.49,482.99 68.58,482.99 69.66,482.99 70.74,482.99 71.83,482.98 72.91,482.98 74.00,482.98 75.08,482.98 76.16,482.97 77.25,482.97 78.33,482.97 79.42,482.96 80.50,482.96 81.58,482.96 82.67,482.95 83.75,482.95 84.84,482.95 85.92,482.94 87.00,482.94 88.09,482.94 89.17,482.93 90.26,482.93 91.34,482.92 92.42,482.92 93.51,482.91 94.59,482.91 95.68,482.90 96.76,482.90 97.84,482.89 98.93,482.88 100.01,482.88 101.10,482.87 102.18,482.86 103.26,482.86 104.35,482.85 105.43,482.84 106.52,482.83 107.60,482.82 108.68,482.81 109.77,482.80 110.85,482.79 111.94,482.78 113.02,482.77 114.10,482.76 115.19,482.74 116.27,482.73 117.36,482.72 118.44,482.70 119.52,482.68 120.61,482.67 121.69,482.65 122.78,482.63 123.86,482.61 124.94,482.58 126.03,482.56 127.11,482.53 128.20,482.51 129.28,482.48 130.36,482.44 131.45,482.41 132.53,482.37 133.62,482.33 134.70,482.29 135.78,482.24 136.87,482.19 137.95,482.13 139.04,482.07 140.12,482.00 141.20,481.92 142.29,481.84 143.37,481.74 144.46,481.64 145.54,481.52 146.62,481.39 147.71,481.24 148.79,481.08 149.88,480.89 150.96,480.67 152.04,480.42 153.13,480.13 154.21,479.79 155.30,479.39 156.38,478.92 157.46,478.36 158.55,477.69 159.63,476.86 160.72,475.86 161.80,474.61 162.88,473.05 163.97,471.08 165.05,468.59 166.14,465.45 167.22,461.54 168.30,456.89 169.39,451.77 170.47,447.00 171.56,443.86 172.64,443.55 173.72,446.19 174.81,450.75 175.89,455.88 176.98,460.67 178.06,464.73 179.14,468.02 180.23,470.63 181.31,472.69 182.40,474.32 183.48,475.63 184.56,476.68 185.65,477.53 186.73,478.24 187.82,478.82 188.90,479.30 189.98,479.72 191.07,480.06 192.15,480.36 193.24,480.62 194.32,480.84 195.40,481.04 196.49,481.21 197.57,481.36 198.66,481.50 199.74,481.62 200.82,481.72 201.91,481.82 202.99,481.90 204.08,481.98 205.16,482.05 206.24,482.12 207.33,482.17 208.41,482.23 209.50,482.28 210.58,482.32 211.66,482.36 212.75,482.40 213.83,482.44 214.92,482.47 216.00,482.50 217.08,482.53 218.17,482.55 219.25,482.58 220.34,482.60 221.42,482.62 222.50,482.64 223.59,482.66 224.67,482.68 225.76,482.70 226.84,482.71 227.92,482.73 229.01,482.74 230.09,482.75 231.18,482.77 232.26,482.78 233.34,482.79 234.43,482.80 235.51,482.81 236.60,482.82 237.68,482.83 238.76,482.84 239.85,482.85 240.93,482.85 242.02,482.86 243.10,482.87 244.18,482.88 245.27,482.88 246.35,482.89 247.44,482.89 248.52,482.90 249.60,482.91 250.69,482.91 251.77,482.92 252.86,482.92 253.94,482.93 255.02,482.93 256.11,482.93 257.19,482.94 258.28,482.94 259.36,482.95 260.44,482.95 261.53,482.95 262.61,482.96 263.70,482.96 264.78,482.96 265.86,482.97 266.95,482.97 268.03,482.97 269.12,482.98 270.20,482.98 271.28,482.98 272.37,482.98 273.45,482.99 274.54,482.99 275.62,482.99 276.70,482.99 277.79,483.00 278.87,483.00 279.96,483.00 281.04,483.00 282.12,483.00 283.21,483.01 284.29,483.01 285.38,483.01 286.46,483.01 287.54,483.01 288.63,483.01 289.71,483.02 290.80,483.02 291.88,483.02 292.96,483.02 294.05,483.02 295.13,483.02 296.22,483.02 297.30,483.03 298.38,483.03 299.47,483.03 300.55,483.03 301.64,483.03 302.72,483.03 303.80,483.03 304.89,483.03 305.97,483.03 307.06,483.04 308.14,483.04 309.22,483.04 310.31,483.04 311.39,483.04 312.48,483.04 313.56,483.04 314.64,483.04 315.73,483.04 316.81,483.04 317.90,483.04 318.98,483.05 320.06,483.05 321.15,483.05 322.23,483.05 323.32,483.05 324.40,483.05 325.48,483.05 326.57,483.05 327.65,483.05 328.74,483.05 329.82,483.05 330.90,483.05 331.99,483.05 333.07,483.05 334.16,483.06 335.24,483.06" fill="none" stroke="#22dd22" stroke-width="1.5" stroke-linejoin="round" />
<polyline points="31.72,483.00 32.80,483.00 33.89,483.00 34.97,483.00 36.06,483.00 37.14,482.99 38.22,482.99 39.31,482.99 40.39,482.99 41.48,482.99 42.56,482.99 43.64,482.98 44.73,482.98 45.81,482.98 46.90,482.98 47.98,482.98 49.06,482.98 50.15,482.97 51.23,482.97 52.32,482.97 53.40,482.97 54.48,482.97 55.57,482.96 56.65,482.96 57.74,482.96 58.82,482.96 59.90,482.96 60.99,482.95 62.07,482.95 63.16,482.95 64.24,482.95 65.32,482.94 66.41,482.94 67.49,482.94 68.58,482.94 69.66,482.93 70.74,482.93 71.83,482.93 72.91,482.93 74.00,482.92 75.08,482.92 76.16,482.92 77.25,482.91 78.33,482.91 79.42,482.91 80.50,482.90 81.58,482.90 82.67,482.89 83.75,482.89 84.84,482.89 85.92,482.88 87.00,482.88 88.09,482.87 89.17,482.87 90.26,482.86 91.34,482.86 92.42,482.85 93.51,482.85 94.59,482.84 95.68,482.84 96.76,482.83 97.84,482.83 98.93,482.82 100.01,482.82 101.10,482.81 102.18,482.80 103.26,482.80 104.35,482.79 105.43,482.78 106.52,482.77 107.60,482.77 108.68,482.76 109.77,482.75 110.85,482.74 111.94,482.73 113.02,482.72 114.10,482.71 115.19,482.70 116.27,482.69 117.36,482.68 118.44,482.67 119.52,482.66 120.61,482.65 121.69,482.63 122.78,482.62 123.86,482.61 124.94,482.59 126.03,482.58 127.11,482.56 128.20,482.54 129.28,482.53 130.36,482.51 131.45,482.49 132.53,482.47 133.62,482.45 134.70,482.43 135.78,482.40 136.87,482.38 137.95,482.35 139.04,482.32 140.12,482.30 141.20,482.27 142.29,482.23 143.37,482.20 144.46,482.16 145.54,482.13 146.62,482.08 147.71,482.04 148.79,482.00 149.88,481.95 150.96,481.90 152.04,481.84 153.13,481.78 154.21,481.72 155.30,481.65 156.38,481.57 157.46,481.49 158.55,481.41 159.63,481.32 160.72,481.22 161.80,481.11 162.88,480.99 163.97,480.86 165.05,480.72 166.14,480.56 167.22,480.39 168.30,480.21 169.39,480.00 170.47,479.77 171.56,479.52 172.64,479.24 173.72,478.92 174.81,478.56 175.89,478.16 176.98,477.71 178.06,477.20 179.14,476.61 180.23,475.94 181.31,475.17 182.40,474.28 183.48,473.24 184.56,472.04 185.65,470.64 186.73,469.00 187.82,467.09 188.90,464.87 189.98,462.31 191.07,459.40 192.15,456.19 193.24,452.77 194.32,449.35 195.40,446.27 196.49,443.93 197.57,442.71 198.66,442.85 199.74,444.32 200.82,446.84 201.91,450.02 202.99,453.46 204.08,456.85 205.16,460.01 206.24,462.85 207.33,465.34 208.41,467.50 209.50,469.35 210.58,470.94 211.66,472.30 212.75,473.46 213.83,474.47 214.92,475.33 216.00,476.08 217.08,476.73 218.17,477.31 219.25,477.81 220.34,478.25 221.42,478.64 222.50,478.99 223.59,479.29 224.67,479.57 225.76,479.82 226.84,480.04 227.92,480.25 229.01,480.43 230.09,480.60 231.18,480.75 232.26,480.89 233.34,481.01 234.43,481.13 235.51,481.24 236.60,481.33 237.68,481.43 238.76,481.51 239.85,481.59 240.93,481.66 242.02,481.73 243.10,481.79 244.18,481.85 245.27,481.91 246.35,481.96 247.44,482.01 248.52,482.05 249.60,482.09 250.69,482.13 251.77,482.17 252.86,482.21 253.94,482.24 255.02,482.27 256.11,482.30 257.19,482.33 258.28,482.36 259.36,482.38 260.44,482.41 261.53,482.43 262.61,482.45 263.70,482.47 264.78,482.49 265.86,482.51 266.95,482.53 268.03,482.55 269.12,482.56 270.20,482.58 271.28,482.59 272.37,482.61 273.45,482.62 274.54,482.64 275.62,482.65 276.70,482.66 277.79,482.67 278.87,482.68 279.96,482.69 281.04,482.71 282.12,482.72 283.21,482.72 284.29,482.73 285.38,482.74 286.46,482.75 287.54,482.76 288.63,482.77 289.71,482.78 290.80,482.78 291.88,482.79 292.96,482.80 294.05,482.80 295.13,482.81 296.22,482.82 297.30,482.82 298.38,482.83 299.47,482.83 300.55,482.84 301.64,482.85 302.72,482.85 303.80,482.86 304.89,482.86 305.97,482.87 307.06,482.87 308.14,482.87 309.22,482.88 310.31,482.88 311.39,482.89 312.48,482.89 313.56,482.90 314.64,482.90 315.73,482.90 316.81,482.91 317.90,482.91 318.98,482.91 320.06,482.92 321.15,482.92 322.23,482.92 323.32,482.93 324.40,482.93 325.48,482.93 326.57,482.93 327.65,482.94 328.74,482.94 329.82,482.94 330.90,482.94 331.99,482.95 333.07,482.95 334.16,482.95 335.24,482.95" fill="none" stroke="#2222aa" stroke-width="1.5" stroke-linejoin="round" />
<polyline points="31.72,482.99 32.80,482.99 33.89,482.99 34.97,482.99 36.06,482.99 37.14,482.99 38.22,482.99 39.31,482.98 40.39,482.98 41.48,482.98 42.56,482.98 43.64,482.98 44.73,482.97 45.81,482.97 46.90,482.97 47.98,482.97 49.06,482.97 50.15,482.96 51.23,482.96 52.32,482.96 53.40,482.96 54.48,482.95 55.57,482.95 56.65,482.95 57.74,482.95 58.82,482.94 59.90,482.94 60.99,482.94 62.07,482.94 63.16,482.93 64.24,482.93 65.32,482.93 66.41,482.92 67.49,482.92 68.58,482.92 69.66,482.91 70.74,482.91 71.83,482.91 72.91,482.90 74.00,482.90 75.08,482.90 76.16,482.89 77.25,482.89 78.33,482.88 79.42,482.88 80.50,482.87 81.58,482.87 82.67,482.86 83.75,482.86 84.84,482.85 85.92,482.85 87.00,482.84 88.09,482.84 89.17,482.83 90.26,482.82 91.34,482.82 92.42,482.81 93.51,482.80 94.59,482.80 95.68,482.79 96.76,482.78 97.84,482.77 98.93,482.77 100.01,482.76 101.10,482.75 102.18,482.74 103.26,482.73 104.35,482.72 105.43,482.71 106.52,482.70 107.60,482.69 108.68,482.68 109.77,482.66 110.85,482.65 111.94,482.64 113.02,482.62 114.10,482.61 115.19,482.59 116.27,482.58 117.36,482.56 118.44,482.54 119.52,482.52 120.61,482.50 121.69,482.48 122.78,482.46 123.86,482.44 124.94,482.41 126.03,482.39 127.11,482.36 128.20,482.33 129.28,482.30 130.36,482.27 131.45,482.24 132.53,482.20 133.62,482.17 134.70,482.13 135.78,482.08 136.87,482.04 137.95,481.99 139.04,481.93 140.12,481.88 141.20,481.82 142.29,481.75 143.37,481.68 144.46,481.61 145.54,481.52 146.62,481.43 147.71,481.34 148.79,481.23 149.88,481.12 150.96,480.99 152.04,480.86 153.13,480.70 154.21,480.54 155.30,480.35 156.38,480.15 157.46,479.92 158.55,479.66 159.63,479.38 160.72,479.05 161.80,478.68 162.88,478.27 163.97,477.79 165.05,477.24 166.14,476.60 167.22,475.86 168.30,475.00 169.39,473.97 170.47,472.76 171.56,471.30 172.64,469.55 173.72,467.42 174.81,464.82 175.89,461.64 176.98,457.74 178.06,453.01 179.14,447.36 180.23,440.88 181.31,433.95 182.40,427.42 183.48,422.60 184.56,420.80 185.65,422.60 186.73,427.42 187.82,433.95 188.90,440.88 189.98,447.36 191.07,453.01 192.15,457.74 193.24,461.64 194.32,464.82 195.40,467.42 196.49,469.55 197.57,471.30 198.66,472.76 199.74,473.97 200.82,475.00 201.91,475.86 202.99,476.60 204.08,477.24 205.16,477.79 206.24,478.27 207.33,478.68 208.41,479.05 209.50,479.38 210.58,479.66 211.66,479.92 212.75,480.15 213.83,480.35 214.92,480.54 216.00,480.70 217.08,480.86 218.17,480.99 219.25,481.12 220.34,481.23 221.42,481.34 222.50,481.43 223.59,481.52 224.67,481.61 225.76,481.68 226.84,481.75 227.92,481.82 229.01,481.88 230.09,481.93 231.18,481.99 232.26,482.04 233.34,482.08 234.43,482.13 235.51,482.17 236.60,482.20 237.68,482.24 238.76,482.27 239.85,482.30 240.93,482.33 242.02,482.36 243.10,482.39 244.18,482.41 245.27,482.44 246.35,482.46 247.44,482.48 248.52,482.50 249.60,482.52 250.69,482.54 251.77,482.56 252.86,482.58 253.94,482.59 255.02,482.61 256.11,482.62 257.19,482.64 258.28,482.65 259.36,482.66 260.44,482.68 261.53,482.69 262.61,482.70 263.70,482.71 264.78,482.72 265.86,482.73 266.95,482.74 268.03,482.75 269.12,482.76 270.20,482.77 271.28,482.77 272.37,482.78 273.45,482.79 274.54,482.80 275.62,482.80 276.70,482.81 277.79,482.82 278.87,482.82 279.96,482.83 281.04,482.84 282.12,482.84 283.21,482.85 284.29,482.85 285.38,482.86 286.46,482.86 287.54,482.87 288.63,482.87 289.71,482.88 290.80,482.88 291.88,482.89 292.96,482.89 294.05,482.90 295.13,482.90 296.22,482.90 297.30,482.91 298.38,482.91 299.47,482.91 300.55,482.92 301.64,482.92 302.72,482.92 303.80,482.93 304.89,482.93 305.97,482.93 307.06,482.94 308.14,482.94 309.22,482.94 310.31,482.94 311.39,482.95 312.48,482.95 313.56,482.95 314.64,482.95 315.73,482.96 316.81,482.96 317.90,482.96 318.98,482.96 320.06,482.97 321.15,482.97 322.23,482.97 323.32,482.97 324.40,482.97 325.48,482.98 326.57,482.98 327.65,482.98 328.74,482.98 329.82,482.98 330.90,482.99 331.99,482.99 333.07,482.99 334.16,482.99 335.24,482.99" fill="none" stroke="#8a1a9a" stroke-width="1.5" stroke-linejoin="round" />
<text x="184.60" y="441.00" font-size="12" font-weight="normal" text-anchor="middle" fill="#333">3</text>
<text x="172.20" y="459.30" font-size="12" font-weight="normal" text-anchor="middle" fill="#333">1</text>
<text x="197.50" y="458.60" font-size="12" font-weight="normal" text-anchor="middle" fill="#333">2</text>
<text x="199.31" y="423.50" font-size="12.27" font-weight="normal" textLength="28.00" lengthAdjust="spacingAndGlyphs">Si-O</text>
<text x="111.62" y="459.30" font-size="13.48" font-weight="normal" textLength="38.77" lengthAdjust="spacingAndGlyphs">C-O-C</text>
<text x="212.01" y="454.60" font-size="12.73" font-weight="normal" textLength="24.57" lengthAdjust="spacingAndGlyphs">C-O</text>
<line x1="371.0" y1="274.0" x2="674.7" y2="274.0" stroke="#000" stroke-width="1.6"/>
<line x1="371.0" y1="273.2" x2="371.0" y2="497.3" stroke="#000" stroke-width="1.6"/>
<line x1="674.7" y1="273.2" x2="674.7" y2="497.3" stroke="#000" stroke-width="1.6"/>
<line x1="371.0" y1="496.5" x2="674.7" y2="496.5" stroke="#000" stroke-width="1.8"/>
<line x1="371.0" y1="384.8" x2="674.7" y2="384.8" stroke="#000" stroke-width="2.2"/>
<line x1="371.08" y1="496.5" x2="371.08" y2="499.7" stroke="#000" stroke-width="1.4"/>
<line x1="392.70" y1="496.5" x2="392.70" y2="501.3" stroke="#000" stroke-width="1.4"/>
<text x="0" y="0" font-size="11.8" font-weight="bold" text-anchor="middle" transform="translate(392.70,512.7) scale(1,1.06)">280</text>
<line x1="414.32" y1="496.5" x2="414.32" y2="499.7" stroke="#000" stroke-width="1.4"/>
<line x1="435.94" y1="496.5" x2="435.94" y2="501.3" stroke="#000" stroke-width="1.4"/>
<text x="0" y="0" font-size="11.8" font-weight="bold" text-anchor="middle" transform="translate(435.94,512.7) scale(1,1.06)">282</text>
<line x1="457.56" y1="496.5" x2="457.56" y2="499.7" stroke="#000" stroke-width="1.4"/>
<line x1="479.18" y1="496.5" x2="479.18" y2="501.3" stroke="#000" stroke-width="1.4"/>
<text x="0" y="0" font-size="11.8" font-weight="bold" text-anchor="middle" transform="translate(479.18,512.7) scale(1,1.06)">284</text>
<line x1="500.80" y1="496.5" x2="500.80" y2="499.7" stroke="#000" stroke-width="1.4"/>
<line x1="522.42" y1="496.5" x2="522.42" y2="501.3" stroke="#000" stroke-width="1.4"/>
<text x="0" y="0" font-size="11.8" font-weight="bold" text-anchor="middle" transform="translate(522.42,512.7) scale(1,1.06)">286</text>
<line x1="544.04" y1="496.5" x2="544.04" y2="499.7" stroke="#000" stroke-width="1.4"/>
<line x1="565.66" y1="496.5" x2="565.66" y2="501.3" stroke="#000" stroke-width="1.4"/>
<text x="0" y="0" font-size="11.8" font-weight="bold" text-anchor="middle" transform="translate(565.66,512.7) scale(1,1.06)">288</text>
<line x1="587.28" y1="496.5" x2="587.28" y2="499.7" stroke="#000" stroke-width="1.4"/>
<line x1="608.90" y1="496.5" x2="608.90" y2="501.3" stroke="#000" stroke-width="1.4"/>
<text x="0" y="0" font-size="11.8" font-weight="bold" text-anchor="middle" transform="translate(608.90,512.7) scale(1,1.06)">290</text>
<line x1="630.52" y1="496.5" x2="630.52" y2="499.7" stroke="#000" stroke-width="1.4"/>
<line x1="652.14" y1="496.5" x2="652.14" y2="501.3" stroke="#000" stroke-width="1.4"/>
<text x="0" y="0" font-size="11.8" font-weight="bold" text-anchor="middle" transform="translate(652.14,512.7) scale(1,1.06)">292</text>
<line x1="673.76" y1="496.5" x2="673.76" y2="499.7" stroke="#000" stroke-width="1.4"/>
<text x="463.37" y="527.20" font-size="13.94" font-weight="bold" textLength="119.74" lengthAdjust="spacingAndGlyphs">Binding&#160;energy&#160;(eV)</text>
<text x="386.19" y="294.40" font-size="10.61" font-weight="bold" textLength="47.57" lengthAdjust="spacingAndGlyphs">C2P1-C&#160;1s</text>
<text x="383.12" y="407.90" font-size="10.76" font-weight="bold" textLength="61.24" lengthAdjust="spacingAndGlyphs">M-C2P1-C&#160;1s</text>
<text x="574.13" y="290.40" font-size="11.67" font-weight="normal" textLength="72.78" lengthAdjust="spacingAndGlyphs">1&#160;C-C&#160;&#160;33.45%</text>
<text x="574.67" y="304.90" font-size="11.97" font-weight="normal" textLength="96.74" lengthAdjust="spacingAndGlyphs">2&#160;C-O/C-N&#160;&#160;58.53%</text>
<text x="574.63" y="319.50" font-size="11.52" font-weight="normal" textLength="79.28" lengthAdjust="spacingAndGlyphs">3&#160;O-C-O&#160;&#160;8.02%</text>
<line x1="371.0" y1="371.3" x2="674.7" y2="369.7" stroke="#22cc22" stroke-width="1.2"/>
<line x1="371.0" y1="371.5" x2="674.7" y2="369.8" stroke="#dd22dd" stroke-width="1.4"/>
<polyline points="371.08,370.95 372.16,370.94 373.24,370.93 374.32,370.91 375.40,370.90 376.49,370.89 377.57,370.87 378.65,370.86 379.73,370.84 380.81,370.83 381.89,370.82 382.97,370.80 384.05,370.79 385.13,370.77 386.21,370.76 387.30,370.74 388.38,370.73 389.46,370.71 390.54,370.70 391.62,370.68 392.70,370.66 393.78,370.65 394.86,370.63 395.94,370.61 397.02,370.60 398.10,370.58 399.19,370.56 400.27,370.54 401.35,370.52 402.43,370.50 403.51,370.49 404.59,370.47 405.67,370.45 406.75,370.43 407.83,370.41 408.91,370.38 410.00,370.36 411.08,370.34 412.16,370.32 413.24,370.30 414.32,370.27 415.40,370.25 416.48,370.23 417.56,370.20 418.64,370.18 419.72,370.15 420.81,370.12 421.89,370.10 422.97,370.07 424.05,370.04 425.13,370.01 426.21,369.98 427.29,369.95 428.37,369.92 429.45,369.89 430.53,369.85 431.62,369.82 432.70,369.78 433.78,369.75 434.86,369.71 435.94,369.67 437.02,369.63 438.10,369.59 439.18,369.55 440.26,369.51 441.34,369.46 442.43,369.41 443.51,369.37 444.59,369.32 445.67,369.27 446.75,369.21 447.83,369.16 448.91,369.10 449.99,369.04 451.07,368.98 452.15,368.91 453.24,368.85 454.32,368.78 455.40,368.70 456.48,368.63 457.56,368.55 458.64,368.47 459.72,368.38 460.80,368.29 461.88,368.20 462.96,368.10 464.05,368.00 465.13,367.89 466.21,367.77 467.29,367.65 468.37,367.52 469.45,367.39 470.53,367.25 471.61,367.10 472.69,366.94 473.77,366.78 474.86,366.60 475.94,366.41 477.02,366.21 478.10,366.00 479.18,365.77 480.26,365.53 481.34,365.27 482.42,365.00 483.50,364.70 484.58,364.38 485.67,364.04 486.75,363.67 487.83,363.27 488.91,362.84 489.99,362.37 491.07,361.87 492.15,361.31 493.23,360.71 494.31,360.06 495.39,359.34 496.48,358.55 497.56,357.68 498.64,356.72 499.72,355.66 500.80,354.49 501.88,353.19 502.96,351.74 504.04,350.13 505.12,348.33 506.20,346.31 507.29,344.06 508.37,341.54 509.45,338.71 510.53,335.56 511.61,332.04 512.69,328.15 513.77,323.88 514.85,319.24 515.93,314.30 517.01,309.15 518.10,303.97 519.18,298.99 520.26,294.51 521.34,290.87 522.42,288.39 523.50,287.32 524.58,287.78 525.66,289.70 526.74,292.90 527.83,297.07 528.91,301.87 529.99,306.99 531.07,312.17 532.15,317.19 533.23,321.95 534.31,326.36 535.39,330.39 536.47,334.04 537.55,337.33 538.63,340.27 539.72,342.89 540.80,345.24 541.88,347.33 542.96,349.20 544.04,350.88 545.12,352.37 546.20,353.72 547.28,354.93 548.36,356.02 549.44,357.00 550.53,357.89 551.61,358.70 552.69,359.43 553.77,360.10 554.85,360.71 555.93,361.27 557.01,361.78 558.09,362.25 559.17,362.68 560.25,363.08 561.34,363.45 562.42,363.79 563.50,364.10 564.58,364.39 565.66,364.67 566.74,364.92 567.82,365.15 568.90,365.37 569.98,365.58 571.07,365.77 572.15,365.95 573.23,366.12 574.31,366.28 575.39,366.42 576.47,366.56 577.55,366.70 578.63,366.82 579.71,366.94 580.79,367.05 581.88,367.15 582.96,367.25 584.04,367.34 585.12,367.43 586.20,367.51 587.28,367.59 588.36,367.67 589.44,367.74 590.52,367.80 591.60,367.87 592.68,367.93 593.77,367.99 594.85,368.04 595.93,368.09 597.01,368.14 598.09,368.19 599.17,368.24 600.25,368.28 601.33,368.32 602.41,368.36 603.50,368.40 604.58,368.43 605.66,368.47 606.74,368.50 607.82,368.53 608.90,368.56 609.98,368.59 611.06,368.62 612.14,368.64 613.22,368.67 614.31,368.69 615.39,368.71 616.47,368.74 617.55,368.76 618.63,368.78 619.71,368.80 620.79,368.81 621.87,368.83 622.95,368.85 624.03,368.86 625.12,368.88 626.20,368.89 627.28,368.91 628.36,368.92 629.44,368.93 630.52,368.95 631.60,368.96 632.68,368.97 633.76,368.98 634.84,368.99 635.92,369.00 637.01,369.01 638.09,369.02 639.17,369.02 640.25,369.03 641.33,369.04 642.41,369.05 643.49,369.05 644.57,369.06 645.65,369.07 646.74,369.07 647.82,369.08 648.90,369.08 649.98,369.09 651.06,369.09 652.14,369.10 653.22,369.10 654.30,369.10 655.38,369.11 656.46,369.11 657.55,369.11 658.63,369.12 659.71,369.12 660.79,369.12 661.87,369.12 662.95,369.13 664.03,369.13 665.11,369.13 666.19,369.13 667.27,369.13 668.36,369.13 669.44,369.13 670.52,369.13 671.60,369.13 672.68,369.14 673.76,369.14" fill="none" stroke="#22e0e0" stroke-width="1.5" stroke-linejoin="round" />
<polyline points="371.08,371.00 372.16,370.99 373.24,370.97 374.32,370.96 375.40,370.95 376.49,370.93 377.57,370.92 378.65,370.90 379.73,370.89 380.81,370.87 381.89,370.85 382.97,370.84 384.05,370.82 385.13,370.81 386.21,370.79 387.30,370.77 388.38,370.75 389.46,370.74 390.54,370.72 391.62,370.70 392.70,370.68 393.78,370.66 394.86,370.64 395.94,370.62 397.02,370.60 398.10,370.57 399.19,370.55 400.27,370.53 401.35,370.51 402.43,370.48 403.51,370.46 404.59,370.43 405.67,370.41 406.75,370.38 407.83,370.35 408.91,370.32 410.00,370.29 411.08,370.26 412.16,370.23 413.24,370.20 414.32,370.16 415.40,370.13 416.48,370.09 417.56,370.06 418.64,370.02 419.72,369.98 420.81,369.94 421.89,369.89 422.97,369.85 424.05,369.80 425.13,369.75 426.21,369.70 427.29,369.65 428.37,369.59 429.45,369.53 430.53,369.47 431.62,369.40 432.70,369.34 433.78,369.27 434.86,369.19 435.94,369.11 437.02,369.03 438.10,368.94 439.18,368.85 440.26,368.75 441.34,368.64 442.43,368.53 443.51,368.41 444.59,368.29 445.67,368.15 446.75,368.01 447.83,367.85 448.91,367.69 449.99,367.51 451.07,367.32 452.15,367.11 453.24,366.89 454.32,366.65 455.40,366.38 456.48,366.10 457.56,365.79 458.64,365.44 459.72,365.07 460.80,364.66 461.88,364.21 462.96,363.70 464.05,363.15 465.13,362.53 466.21,361.84 467.29,361.06 468.37,360.20 469.45,359.22 470.53,358.11 471.61,356.85 472.69,355.42 473.77,353.78 474.86,351.91 475.94,349.76 477.02,347.30 478.10,344.49 479.18,341.28 480.26,337.64 481.34,333.57 482.42,329.10 483.50,324.33 484.58,319.45 485.67,314.76 486.75,310.69 487.83,307.68 488.91,306.14 489.99,306.31 491.07,308.15 492.15,311.40 493.23,315.62 494.31,320.36 495.39,325.23 496.48,329.94 497.56,334.32 498.64,338.29 499.72,341.83 500.80,344.95 501.88,347.67 502.96,350.05 504.04,352.13 505.12,353.94 506.20,355.52 507.29,356.90 508.37,358.11 509.45,359.18 510.53,360.13 511.61,360.96 512.69,361.70 513.77,362.37 514.85,362.96 515.93,363.49 517.01,363.97 518.10,364.40 519.18,364.79 520.26,365.15 521.34,365.47 522.42,365.76 523.50,366.03 524.58,366.28 525.66,366.50 526.74,366.71 527.83,366.90 528.91,367.08 529.99,367.24 531.07,367.39 532.15,367.53 533.23,367.66 534.31,367.78 535.39,367.89 536.47,367.99 537.55,368.09 538.63,368.18 539.72,368.27 540.80,368.35 541.88,368.42 542.96,368.49 544.04,368.55 545.12,368.62 546.20,368.67 547.28,368.73 548.36,368.78 549.44,368.83 550.53,368.87 551.61,368.92 552.69,368.96 553.77,368.99 554.85,369.03 555.93,369.06 557.01,369.10 558.09,369.13 559.17,369.15 560.25,369.18 561.34,369.21 562.42,369.23 563.50,369.25 564.58,369.28 565.66,369.30 566.74,369.32 567.82,369.33 568.90,369.35 569.98,369.37 571.07,369.38 572.15,369.40 573.23,369.41 574.31,369.43 575.39,369.44 576.47,369.45 577.55,369.46 578.63,369.47 579.71,369.48 580.79,369.49 581.88,369.50 582.96,369.51 584.04,369.52 585.12,369.52 586.20,369.53 587.28,369.54 588.36,369.54 589.44,369.55 590.52,369.55 591.60,369.56 592.68,369.56 593.77,369.57 594.85,369.57 595.93,369.57 597.01,369.58 598.09,369.58 599.17,369.58 600.25,369.59 601.33,369.59 602.41,369.59 603.50,369.59 604.58,369.59 605.66,369.59 606.74,369.60 607.82,369.60 608.90,369.60 609.98,369.60 611.06,369.60 612.14,369.60 613.22,369.60 614.31,369.60 615.39,369.60 616.47,369.60 617.55,369.60 618.63,369.60 619.71,369.59 620.79,369.59 621.87,369.59 622.95,369.59 624.03,369.59 625.12,369.59 626.20,369.59 627.28,369.58 628.36,369.58 629.44,369.58 630.52,369.58 631.60,369.58 632.68,369.57 633.76,369.57 634.84,369.57 635.92,369.57 637.01,369.56 638.09,369.56 639.17,369.56 640.25,369.55 641.33,369.55 642.41,369.55 643.49,369.55 644.57,369.54 645.65,369.54 646.74,369.54 647.82,369.53 648.90,369.53 649.98,369.53 651.06,369.52 652.14,369.52 653.22,369.51 654.30,369.51 655.38,369.51 656.46,369.50 657.55,369.50 658.63,369.50 659.71,369.49 660.79,369.49 661.87,369.48 662.95,369.48 664.03,369.48 665.11,369.47 666.19,369.47 667.27,369.46 668.36,369.46 669.44,369.45 670.52,369.45 671.60,369.44 672.68,369.44 673.76,369.44" fill="none" stroke="#2222cc" stroke-width="1.5" stroke-linejoin="round" />
<polyline points="371.08,371.38 372.16,371.37 373.24,371.36 374.32,371.36 375.40,371.35 376.49,371.34 377.57,371.34 378.65,371.33 379.73,371.32 380.81,371.32 381.89,371.31 382.97,371.30 384.05,371.30 385.13,371.29 386.21,371.28 387.30,371.28 388.38,371.27 389.46,371.26 390.54,371.26 391.62,371.25 392.70,371.24 393.78,371.24 394.86,371.23 395.94,371.22 397.02,371.22 398.10,371.21 399.19,371.20 400.27,371.20 401.35,371.19 402.43,371.18 403.51,371.17 404.59,371.17 405.67,371.16 406.75,371.15 407.83,371.15 408.91,371.14 410.00,371.13 411.08,371.13 412.16,371.12 413.24,371.11 414.32,371.11 415.40,371.10 416.48,371.09 417.56,371.08 418.64,371.08 419.72,371.07 420.81,371.06 421.89,371.06 422.97,371.05 424.05,371.04 425.13,371.03 426.21,371.03 427.29,371.02 428.37,371.01 429.45,371.01 430.53,371.00 431.62,370.99 432.70,370.98 433.78,370.98 434.86,370.97 435.94,370.96 437.02,370.96 438.10,370.95 439.18,370.94 440.26,370.93 441.34,370.93 442.43,370.92 443.51,370.91 444.59,370.90 445.67,370.90 446.75,370.89 447.83,370.88 448.91,370.87 449.99,370.86 451.07,370.86 452.15,370.85 453.24,370.84 454.32,370.83 455.40,370.83 456.48,370.82 457.56,370.81 458.64,370.80 459.72,370.79 460.80,370.79 461.88,370.78 462.96,370.77 464.05,370.76 465.13,370.75 466.21,370.74 467.29,370.74 468.37,370.73 469.45,370.72 470.53,370.71 471.61,370.70 472.69,370.69 473.77,370.68 474.86,370.67 475.94,370.66 477.02,370.65 478.10,370.64 479.18,370.64 480.26,370.63 481.34,370.62 482.42,370.61 483.50,370.60 484.58,370.59 485.67,370.57 486.75,370.56 487.83,370.55 488.91,370.54 489.99,370.53 491.07,370.52 492.15,370.51 493.23,370.50 494.31,370.48 495.39,370.47 496.48,370.46 497.56,370.44 498.64,370.43 499.72,370.42 500.80,370.40 501.88,370.39 502.96,370.37 504.04,370.36 505.12,370.34 506.20,370.32 507.29,370.31 508.37,370.29 509.45,370.27 510.53,370.25 511.61,370.23 512.69,370.21 513.77,370.18 514.85,370.16 515.93,370.13 517.01,370.11 518.10,370.08 519.18,370.05 520.26,370.02 521.34,369.98 522.42,369.95 523.50,369.91 524.58,369.87 525.66,369.82 526.74,369.77 527.83,369.72 528.91,369.66 529.99,369.60 531.07,369.53 532.15,369.46 533.23,369.37 534.31,369.28 535.39,369.18 536.47,369.06 537.55,368.93 538.63,368.79 539.72,368.62 540.80,368.43 541.88,368.21 542.96,367.96 544.04,367.66 545.12,367.32 546.20,366.91 547.28,366.44 548.36,365.87 549.44,365.19 550.53,364.38 551.61,363.41 552.69,362.28 553.77,360.97 554.85,359.51 555.93,357.97 557.01,356.52 558.09,355.36 559.17,354.74 560.25,354.80 561.34,355.53 562.42,356.76 563.50,358.23 564.58,359.75 565.66,361.17 566.74,362.44 567.82,363.52 568.90,364.44 569.98,365.21 571.07,365.85 572.15,366.39 573.23,366.84 574.31,367.22 575.39,367.54 576.47,367.81 577.55,368.04 578.63,368.24 579.71,368.41 580.79,368.56 581.88,368.69 582.96,368.81 584.04,368.91 585.12,369.00 586.20,369.07 587.28,369.14 588.36,369.20 589.44,369.26 590.52,369.31 591.60,369.35 592.68,369.39 593.77,369.42 594.85,369.46 595.93,369.48 597.01,369.51 598.09,369.53 599.17,369.55 600.25,369.57 601.33,369.59 602.41,369.60 603.50,369.62 604.58,369.63 605.66,369.64 606.74,369.65 607.82,369.66 608.90,369.67 609.98,369.67 611.06,369.68 612.14,369.68 613.22,369.69 614.31,369.69 615.39,369.70 616.47,369.70 617.55,369.70 618.63,369.70 619.71,369.70 620.79,369.71 621.87,369.71 622.95,369.71 624.03,369.71 625.12,369.71 626.20,369.71 627.28,369.70 628.36,369.70 629.44,369.70 630.52,369.70 631.60,369.70 632.68,369.70 633.76,369.69 634.84,369.69 635.92,369.69 637.01,369.69 638.09,369.68 639.17,369.68 640.25,369.68 641.33,369.67 642.41,369.67 643.49,369.67 644.57,369.66 645.65,369.66 646.74,369.66 647.82,369.65 648.90,369.65 649.98,369.64 651.06,369.64 652.14,369.64 653.22,369.63 654.30,369.63 655.38,369.62 656.46,369.62 657.55,369.61 658.63,369.61 659.71,369.60 660.79,369.60 661.87,369.60 662.95,369.59 664.03,369.59 665.11,369.58 666.19,369.58 667.27,369.57 668.36,369.57 669.44,369.56 670.52,369.55 671.60,369.55 672.68,369.54 673.76,369.54" fill="none" stroke="#dd22dd" stroke-width="1.5" stroke-linejoin="round" />
<path d="M371.00,371.30 C375.83,371.25 391.00,371.17 400.00,371.00 C409.00,370.83 418.33,370.58 425.00,370.30 C431.67,370.02 436.10,369.68 440.00,369.30 C443.90,368.92 445.58,368.50 448.40,368.00 C451.22,367.50 454.37,367.28 456.90,366.30 C459.43,365.32 461.77,363.93 463.60,362.10 C465.43,360.27 466.48,358.12 467.90,355.30 C469.32,352.48 470.83,348.28 472.10,345.20 C473.37,342.12 474.58,339.33 475.50,336.80 C476.42,334.27 476.40,333.30 477.60,330.00 C478.80,326.70 481.00,320.97 482.70,317.00 C484.40,313.03 486.43,308.12 487.80,306.20 C489.17,304.28 489.88,305.25 490.90,305.50 C491.92,305.75 492.55,306.13 493.90,307.70 C495.25,309.27 497.12,313.03 499.00,314.90 C500.88,316.77 503.15,319.08 505.20,318.90 C507.25,318.72 509.27,317.37 511.30,313.80 C513.33,310.23 515.35,302.10 517.40,297.50 C519.45,292.90 521.72,287.40 523.60,286.20 C525.48,285.00 527.00,287.05 528.70,290.30 C530.40,293.55 531.93,299.90 533.80,305.70 C535.67,311.50 537.85,319.48 539.90,325.10 C541.95,330.72 544.05,336.00 546.10,339.40 C548.15,342.80 550.17,344.32 552.20,345.50 C554.23,346.68 556.27,345.82 558.30,346.50 C560.33,347.18 562.37,348.12 564.40,349.60 C566.43,351.08 568.32,353.42 570.50,355.40 C572.68,357.38 574.87,359.75 577.50,361.50 C580.13,363.25 581.92,364.73 586.30,365.90 C590.68,367.07 596.35,367.92 603.80,368.50 C611.25,369.08 623.70,369.15 631.00,369.40 C638.30,369.65 640.77,369.92 647.60,370.00 C654.43,370.08 667.93,369.92 672.00,369.90" fill="none" stroke="#000" stroke-width="1.5" stroke-linejoin="round"/>
<path d="M371.00,370.90 C375.83,370.78 391.00,370.53 400.00,370.20 C409.00,369.87 418.33,369.40 425.00,368.90 C431.67,368.40 436.10,367.85 440.00,367.20 C443.90,366.55 445.58,365.63 448.40,365.00 C451.22,364.37 454.37,364.02 456.90,363.40 C459.43,362.78 461.63,362.65 463.60,361.30 C465.57,359.95 467.00,357.98 468.70,355.30 C470.40,352.62 472.38,348.28 473.80,345.20 C475.22,342.12 476.22,339.33 477.20,336.80 C478.18,334.27 478.62,333.15 479.70,330.00 C480.78,326.85 482.35,322.30 483.70,317.90 C485.05,313.50 486.77,306.32 487.80,303.60 C488.83,300.88 489.05,301.60 489.90,301.60 C490.75,301.60 491.55,301.22 492.90,303.60 C494.25,305.98 496.23,311.88 498.00,315.90 C499.77,319.92 501.97,326.00 503.50,327.70 C505.03,329.40 505.73,328.07 507.20,326.10 C508.67,324.13 510.42,321.02 512.30,315.90 C514.18,310.78 516.62,300.68 518.50,295.40 C520.38,290.12 521.90,285.22 523.60,284.20 C525.30,283.18 527.00,285.72 528.70,289.30 C530.40,292.88 531.93,299.57 533.80,305.70 C535.67,311.83 537.85,320.32 539.90,326.10 C541.95,331.88 544.05,337.00 546.10,340.40 C548.15,343.80 550.17,345.42 552.20,346.50 C554.23,347.58 556.43,346.38 558.30,346.90 C560.17,347.42 561.95,348.62 563.40,349.60 C564.85,350.58 565.23,350.95 567.00,352.80 C568.77,354.65 571.37,358.67 574.00,360.70 C576.63,362.73 579.30,363.93 582.80,365.00 C586.30,366.07 590.03,366.57 595.00,367.10 C599.97,367.63 606.60,367.97 612.60,368.20 C618.60,368.43 627.93,368.45 631.00,368.50" fill="none" stroke="#dd1111" stroke-width="1.5" stroke-linejoin="round"/>
<text x="489.80" y="324.00" font-size="12" font-weight="normal" text-anchor="middle" fill="#333">1</text>
<text x="524.60" y="301.90" font-size="12" font-weight="normal" text-anchor="middle" fill="#333">2</text>
<text x="561.50" y="364.50" font-size="12" font-weight="normal" text-anchor="middle" fill="#333">3</text>
<text x="463.92" y="293.20" font-size="13.48" font-weight="normal" textLength="52.30" lengthAdjust="spacingAndGlyphs">C-O/C-N</text>
<text x="452.91" y="326.90" font-size="13.18" font-weight="normal" textLength="24.09" lengthAdjust="spacingAndGlyphs">C-C</text>
<text x="570.72" y="354.70" font-size="12.42" font-weight="normal" textLength="39.47" lengthAdjust="spacingAndGlyphs">O-C-O</text>
<text x="574.13" y="401.10" font-size="11.67" font-weight="normal" textLength="72.78" lengthAdjust="spacingAndGlyphs">1&#160;C-C&#160;&#160;31.94%</text>
<text x="574.67" y="415.70" font-size="11.97" font-weight="normal" textLength="93.74" lengthAdjust="spacingAndGlyphs">2&#160;C-O/C-N&#160;&#160;39.9&#160;%</text>
<text x="574.63" y="429.70" font-size="11.52" font-weight="normal" textLength="85.39" lengthAdjust="spacingAndGlyphs">3&#160;O-C-O&#160;&#160;28.16%</text>
<line x1="371.0" y1="485.1" x2="674.7" y2="484.7" stroke="#22cc22" stroke-width="1.3"/>
<path d="M371.00,486.00 C375.00,485.97 388.17,485.87 395.00,485.80 C401.83,485.73 407.83,485.73 412.00,485.60 C416.17,485.47 415.33,485.33 420.00,485.00 C424.67,484.67 435.20,484.10 440.00,483.60 C444.80,483.10 445.87,483.12 448.80,482.00 C451.73,480.88 455.53,479.45 457.60,476.90 C459.67,474.35 459.87,470.35 461.20,466.70 C462.53,463.05 464.13,459.28 465.60,455.00 C467.07,450.72 468.33,446.83 470.00,441.00 C471.67,435.17 474.20,425.68 475.60,420.00 C477.00,414.32 477.45,409.87 478.40,406.90 C479.35,403.93 480.35,403.20 481.30,402.20 C482.25,401.20 483.17,400.75 484.10,400.90 C485.03,401.05 485.82,401.48 486.90,403.10 C487.98,404.72 489.35,407.47 490.60,410.60 C491.85,413.73 493.15,417.83 494.40,421.90 C495.65,425.97 496.70,430.32 498.10,435.00 C499.50,439.68 501.23,445.62 502.80,450.00 C504.37,454.38 505.97,458.30 507.50,461.30 C509.03,464.30 510.62,466.08 512.00,468.00 C513.38,469.92 513.42,471.33 515.80,472.80 C518.18,474.27 522.37,475.48 526.30,476.80 C530.23,478.12 535.03,479.70 539.40,480.70 C543.77,481.70 545.73,482.22 552.50,482.80 C559.27,483.38 570.42,483.78 580.00,484.20 C589.58,484.62 600.00,485.03 610.00,485.30 C620.00,485.57 629.33,485.82 640.00,485.80 C650.67,485.78 668.33,485.30 674.00,485.20" fill="none" stroke="#000" stroke-width="1.5" stroke-linejoin="round"/>
<path d="M371.00,485.00 C375.83,484.93 390.43,484.98 400.00,484.60 C409.57,484.22 421.23,483.38 428.40,482.70 C435.57,482.02 439.50,481.22 443.00,480.50 C446.50,479.78 447.45,479.00 449.40,478.40 C451.35,477.80 453.10,478.12 454.70,476.90 C456.30,475.68 457.55,473.78 459.00,471.10 C460.45,468.42 462.15,463.98 463.40,460.80 C464.65,457.62 465.40,455.30 466.50,452.00 C467.60,448.70 468.78,445.08 470.00,441.00 C471.22,436.92 472.70,431.93 473.80,427.50 C474.90,423.07 475.67,417.37 476.60,414.40 C477.53,411.43 478.32,410.95 479.40,409.70 C480.48,408.45 482.02,408.30 483.10,406.90 C484.18,405.50 485.12,402.55 485.90,401.30 C486.68,400.05 487.02,398.78 487.80,399.40 C488.58,400.02 489.50,401.88 490.60,405.00 C491.70,408.12 493.15,413.42 494.40,418.10 C495.65,422.78 496.70,428.10 498.10,433.10 C499.50,438.10 501.23,443.72 502.80,448.10 C504.37,452.48 505.97,456.25 507.50,459.40 C509.03,462.55 510.18,464.32 512.00,467.00 C513.82,469.68 515.15,473.43 518.40,475.50 C521.65,477.57 525.82,478.22 531.50,479.40 C537.18,480.58 544.62,481.82 552.50,482.60 C560.38,483.38 567.55,483.75 578.80,484.10 C590.05,484.45 604.13,484.58 620.00,484.70 C635.87,484.82 665.00,484.78 674.00,484.80" fill="none" stroke="#dd1111" stroke-width="1.5" stroke-linejoin="round"/>
<polyline points="371.08,484.80 372.16,484.80 373.24,484.80 374.32,484.79 375.40,484.79 376.49,484.79 377.57,484.78 378.65,484.78 379.73,484.77 380.81,484.77 381.89,484.76 382.97,484.76 384.05,484.75 385.13,484.75 386.21,484.74 387.30,484.74 388.38,484.73 389.46,484.73 390.54,484.72 391.62,484.71 392.70,484.71 393.78,484.70 394.86,484.69 395.94,484.69 397.02,484.68 398.10,484.67 399.19,484.66 400.27,484.65 401.35,484.65 402.43,484.64 403.51,484.63 404.59,484.62 405.67,484.61 406.75,484.60 407.83,484.59 408.91,484.57 410.00,484.56 411.08,484.55 412.16,484.54 413.24,484.52 414.32,484.51 415.40,484.50 416.48,484.48 417.56,484.46 418.64,484.45 419.72,484.43 420.81,484.41 421.89,484.39 422.97,484.37 424.05,484.35 425.13,484.33 426.21,484.31 427.29,484.28 428.37,484.25 429.45,484.23 430.53,484.20 431.62,484.17 432.70,484.13 433.78,484.10 434.86,484.06 435.94,484.03 437.02,483.98 438.10,483.94 439.18,483.89 440.26,483.84 441.34,483.79 442.43,483.73 443.51,483.67 444.59,483.61 445.67,483.54 446.75,483.46 447.83,483.38 448.91,483.29 449.99,483.19 451.07,483.09 452.15,482.97 453.24,482.85 454.32,482.72 455.40,482.57 456.48,482.40 457.56,482.22 458.64,482.02 459.72,481.80 460.80,481.56 461.88,481.28 462.96,480.98 464.05,480.63 465.13,480.24 466.21,479.79 467.29,479.28 468.37,478.70 469.45,478.03 470.53,477.25 471.61,476.33 472.69,475.26 473.77,473.99 474.86,472.48 475.94,470.68 477.02,468.51 478.10,465.88 479.18,462.71 480.26,458.89 481.34,454.33 482.42,449.01 483.50,443.06 484.58,436.87 485.67,431.20 486.75,427.11 487.83,425.60 488.91,427.11 489.99,431.20 491.07,436.87 492.15,443.06 493.23,449.01 494.31,454.33 495.39,458.89 496.48,462.71 497.56,465.88 498.64,468.51 499.72,470.68 500.80,472.48 501.88,473.99 502.96,475.26 504.04,476.33 505.12,477.25 506.20,478.03 507.29,478.70 508.37,479.28 509.45,479.79 510.53,480.24 511.61,480.63 512.69,480.98 513.77,481.28 514.85,481.56 515.93,481.80 517.01,482.02 518.10,482.22 519.18,482.40 520.26,482.57 521.34,482.72 522.42,482.85 523.50,482.97 524.58,483.09 525.66,483.19 526.74,483.29 527.83,483.38 528.91,483.46 529.99,483.54 531.07,483.61 532.15,483.67 533.23,483.73 534.31,483.79 535.39,483.84 536.47,483.89 537.55,483.94 538.63,483.98 539.72,484.03 540.80,484.06 541.88,484.10 542.96,484.13 544.04,484.17 545.12,484.20 546.20,484.23 547.28,484.25 548.36,484.28 549.44,484.31 550.53,484.33 551.61,484.35 552.69,484.37 553.77,484.39 554.85,484.41 555.93,484.43 557.01,484.45 558.09,484.46 559.17,484.48 560.25,484.50 561.34,484.51 562.42,484.52 563.50,484.54 564.58,484.55 565.66,484.56 566.74,484.57 567.82,484.59 568.90,484.60 569.98,484.61 571.07,484.62 572.15,484.63 573.23,484.64 574.31,484.65 575.39,484.65 576.47,484.66 577.55,484.67 578.63,484.68 579.71,484.69 580.79,484.69 581.88,484.70 582.96,484.71 584.04,484.71 585.12,484.72 586.20,484.73 587.28,484.73 588.36,484.74 589.44,484.74 590.52,484.75 591.60,484.75 592.68,484.76 593.77,484.76 594.85,484.77 595.93,484.77 597.01,484.78 598.09,484.78 599.17,484.79 600.25,484.79 601.33,484.79 602.41,484.80 603.50,484.80 604.58,484.80 605.66,484.81 606.74,484.81 607.82,484.82 608.90,484.82 609.98,484.82 611.06,484.82 612.14,484.83 613.22,484.83 614.31,484.83 615.39,484.84 616.47,484.84 617.55,484.84 618.63,484.84 619.71,484.85 620.79,484.85 621.87,484.85 622.95,484.85 624.03,484.86 625.12,484.86 626.20,484.86 627.28,484.86 628.36,484.87 629.44,484.87 630.52,484.87 631.60,484.87 632.68,484.87 633.76,484.87 634.84,484.88 635.92,484.88 637.01,484.88 638.09,484.88 639.17,484.88 640.25,484.89 641.33,484.89 642.41,484.89 643.49,484.89 644.57,484.89 645.65,484.89 646.74,484.89 647.82,484.90 648.90,484.90 649.98,484.90 651.06,484.90 652.14,484.90 653.22,484.90 654.30,484.90 655.38,484.91 656.46,484.91 657.55,484.91 658.63,484.91 659.71,484.91 660.79,484.91 661.87,484.91 662.95,484.91 664.03,484.91 665.11,484.92 666.19,484.92 667.27,484.92 668.36,484.92 669.44,484.92 670.52,484.92 671.60,484.92 672.68,484.92 673.76,484.92" fill="none" stroke="#22e0e0" stroke-width="1.5" stroke-linejoin="round" />
<polyline points="371.08,484.84 372.16,484.84 373.24,484.83 374.32,484.83 375.40,484.83 376.49,484.82 377.57,484.82 378.65,484.81 379.73,484.81 380.81,484.81 381.89,484.80 382.97,484.80 384.05,484.79 385.13,484.79 386.21,484.78 387.30,484.78 388.38,484.77 389.46,484.76 390.54,484.76 391.62,484.75 392.70,484.75 393.78,484.74 394.86,484.73 395.94,484.72 397.02,484.72 398.10,484.71 399.19,484.70 400.27,484.69 401.35,484.68 402.43,484.67 403.51,484.66 404.59,484.65 405.67,484.64 406.75,484.63 407.83,484.62 408.91,484.61 410.00,484.60 411.08,484.58 412.16,484.57 413.24,484.55 414.32,484.54 415.40,484.52 416.48,484.50 417.56,484.48 418.64,484.46 419.72,484.44 420.81,484.42 421.89,484.40 422.97,484.37 424.05,484.35 425.13,484.32 426.21,484.29 427.29,484.26 428.37,484.23 429.45,484.19 430.53,484.15 431.62,484.11 432.70,484.07 433.78,484.02 434.86,483.97 435.94,483.91 437.02,483.85 438.10,483.79 439.18,483.71 440.26,483.64 441.34,483.55 442.43,483.46 443.51,483.36 444.59,483.25 445.67,483.12 446.75,482.99 447.83,482.84 448.91,482.67 449.99,482.48 451.07,482.26 452.15,482.02 453.24,481.75 454.32,481.44 455.40,481.08 456.48,480.67 457.56,480.19 458.64,479.63 459.72,478.98 460.80,478.20 461.88,477.27 462.96,476.16 464.05,474.81 465.13,473.16 466.21,471.14 467.29,468.64 468.37,465.56 469.45,461.79 470.53,457.27 471.61,452.07 472.69,446.52 473.77,441.40 474.86,437.86 475.94,436.96 477.02,439.01 478.10,443.33 479.18,448.74 480.26,454.22 481.34,459.17 482.42,463.39 483.50,466.87 484.58,469.70 485.67,472.00 486.75,473.86 487.83,475.38 488.91,476.63 489.99,477.66 491.07,478.53 492.15,479.25 493.23,479.87 494.31,480.39 495.39,480.84 496.48,481.23 497.56,481.57 498.64,481.86 499.72,482.12 500.80,482.35 501.88,482.56 502.96,482.74 504.04,482.90 505.12,483.04 506.20,483.18 507.29,483.29 508.37,483.40 509.45,483.50 510.53,483.59 511.61,483.67 512.69,483.74 513.77,483.81 514.85,483.88 515.93,483.93 517.01,483.99 518.10,484.04 519.18,484.08 520.26,484.13 521.34,484.17 522.42,484.21 523.50,484.24 524.58,484.27 525.66,484.30 526.74,484.33 527.83,484.36 528.91,484.38 529.99,484.41 531.07,484.43 532.15,484.45 533.23,484.47 534.31,484.49 535.39,484.51 536.47,484.53 537.55,484.54 538.63,484.56 539.72,484.57 540.80,484.59 541.88,484.60 542.96,484.61 544.04,484.63 545.12,484.64 546.20,484.65 547.28,484.66 548.36,484.67 549.44,484.68 550.53,484.69 551.61,484.70 552.69,484.70 553.77,484.71 554.85,484.72 555.93,484.73 557.01,484.73 558.09,484.74 559.17,484.75 560.25,484.75 561.34,484.76 562.42,484.77 563.50,484.77 564.58,484.78 565.66,484.78 566.74,484.79 567.82,484.79 568.90,484.80 569.98,484.80 571.07,484.81 572.15,484.81 573.23,484.82 574.31,484.82 575.39,484.82 576.47,484.83 577.55,484.83 578.63,484.83 579.71,484.84 580.79,484.84 581.88,484.84 582.96,484.85 584.04,484.85 585.12,484.85 586.20,484.86 587.28,484.86 588.36,484.86 589.44,484.86 590.52,484.87 591.60,484.87 592.68,484.87 593.77,484.87 594.85,484.88 595.93,484.88 597.01,484.88 598.09,484.88 599.17,484.88 600.25,484.89 601.33,484.89 602.41,484.89 603.50,484.89 604.58,484.89 605.66,484.90 606.74,484.90 607.82,484.90 608.90,484.90 609.98,484.90 611.06,484.90 612.14,484.91 613.22,484.91 614.31,484.91 615.39,484.91 616.47,484.91 617.55,484.91 618.63,484.91 619.71,484.92 620.79,484.92 621.87,484.92 622.95,484.92 624.03,484.92 625.12,484.92 626.20,484.92 627.28,484.92 628.36,484.92 629.44,484.93 630.52,484.93 631.60,484.93 632.68,484.93 633.76,484.93 634.84,484.93 635.92,484.93 637.01,484.93 638.09,484.93 639.17,484.93 640.25,484.93 641.33,484.94 642.41,484.94 643.49,484.94 644.57,484.94 645.65,484.94 646.74,484.94 647.82,484.94 648.90,484.94 649.98,484.94 651.06,484.94 652.14,484.94 653.22,484.94 654.30,484.94 655.38,484.95 656.46,484.95 657.55,484.95 658.63,484.95 659.71,484.95 660.79,484.95 661.87,484.95 662.95,484.95 664.03,484.95 665.11,484.95 666.19,484.95 667.27,484.95 668.36,484.95 669.44,484.95 670.52,484.95 671.60,484.95 672.68,484.95 673.76,484.96" fill="none" stroke="#2222cc" stroke-width="1.5" stroke-linejoin="round" />
<polyline points="371.08,484.69 372.16,484.69 373.24,484.68 374.32,484.68 375.40,484.67 376.49,484.66 377.57,484.66 378.65,484.65 379.73,484.65 380.81,484.64 381.89,484.63 382.97,484.63 384.05,484.62 385.13,484.61 386.21,484.61 387.30,484.60 388.38,484.59 389.46,484.58 390.54,484.57 391.62,484.57 392.70,484.56 393.78,484.55 394.86,484.54 395.94,484.53 397.02,484.52 398.10,484.51 399.19,484.50 400.27,484.49 401.35,484.48 402.43,484.47 403.51,484.46 404.59,484.44 405.67,484.43 406.75,484.42 407.83,484.40 408.91,484.39 410.00,484.38 411.08,484.36 412.16,484.35 413.24,484.33 414.32,484.31 415.40,484.30 416.48,484.28 417.56,484.26 418.64,484.24 419.72,484.22 420.81,484.20 421.89,484.18 422.97,484.16 424.05,484.13 425.13,484.11 426.21,484.08 427.29,484.06 428.37,484.03 429.45,484.00 430.53,483.97 431.62,483.94 432.70,483.91 433.78,483.87 434.86,483.83 435.94,483.80 437.02,483.76 438.10,483.72 439.18,483.67 440.26,483.63 441.34,483.58 442.43,483.53 443.51,483.47 444.59,483.42 445.67,483.36 446.75,483.29 447.83,483.23 448.91,483.16 449.99,483.08 451.07,483.00 452.15,482.92 453.24,482.83 454.32,482.73 455.40,482.63 456.48,482.53 457.56,482.41 458.64,482.29 459.72,482.16 460.80,482.01 461.88,481.86 462.96,481.70 464.05,481.52 465.13,481.33 466.21,481.13 467.29,480.91 468.37,480.67 469.45,480.41 470.53,480.13 471.61,479.82 472.69,479.49 473.77,479.12 474.86,478.73 475.94,478.29 477.02,477.81 478.10,477.29 479.18,476.71 480.26,476.08 481.34,475.38 482.42,474.61 483.50,473.77 484.58,472.85 485.67,471.84 486.75,470.73 487.83,469.53 488.91,468.24 489.99,466.87 491.07,465.42 492.15,463.92 493.23,462.40 494.31,460.91 495.39,459.51 496.48,458.25 497.56,457.22 498.64,456.47 499.72,456.07 500.80,456.03 501.88,456.37 502.96,457.05 504.04,458.03 505.12,459.24 506.20,460.62 507.29,462.10 508.37,463.62 509.45,465.12 510.53,466.58 511.61,467.98 512.69,469.28 513.77,470.50 514.85,471.62 515.93,472.65 517.01,473.59 518.10,474.45 519.18,475.23 520.26,475.94 521.34,476.59 522.42,477.18 523.50,477.71 524.58,478.20 525.66,478.64 526.74,479.05 527.83,479.42 528.91,479.76 529.99,480.07 531.07,480.36 532.15,480.62 533.23,480.86 534.31,481.09 535.39,481.30 536.47,481.49 537.55,481.67 538.63,481.83 539.72,481.98 540.80,482.13 541.88,482.26 542.96,482.39 544.04,482.50 545.12,482.61 546.20,482.72 547.28,482.81 548.36,482.90 549.44,482.99 550.53,483.07 551.61,483.14 552.69,483.21 553.77,483.28 554.85,483.34 555.93,483.41 557.01,483.46 558.09,483.52 559.17,483.57 560.25,483.62 561.34,483.66 562.42,483.71 563.50,483.75 564.58,483.79 565.66,483.83 566.74,483.86 567.82,483.90 568.90,483.93 569.98,483.96 571.07,483.99 572.15,484.02 573.23,484.05 574.31,484.08 575.39,484.10 576.47,484.13 577.55,484.15 578.63,484.17 579.71,484.20 580.79,484.22 581.88,484.24 582.96,484.26 584.04,484.27 585.12,484.29 586.20,484.31 587.28,484.33 588.36,484.34 589.44,484.36 590.52,484.37 591.60,484.39 592.68,484.40 593.77,484.41 594.85,484.43 595.93,484.44 597.01,484.45 598.09,484.46 599.17,484.48 600.25,484.49 601.33,484.50 602.41,484.51 603.50,484.52 604.58,484.53 605.66,484.54 606.74,484.55 607.82,484.56 608.90,484.56 609.98,484.57 611.06,484.58 612.14,484.59 613.22,484.60 614.31,484.60 615.39,484.61 616.47,484.62 617.55,484.63 618.63,484.63 619.71,484.64 620.79,484.65 621.87,484.65 622.95,484.66 624.03,484.66 625.12,484.67 626.20,484.67 627.28,484.68 628.36,484.69 629.44,484.69 630.52,484.70 631.60,484.70 632.68,484.71 633.76,484.71 634.84,484.71 635.92,484.72 637.01,484.72 638.09,484.73 639.17,484.73 640.25,484.74 641.33,484.74 642.41,484.74 643.49,484.75 644.57,484.75 645.65,484.76 646.74,484.76 647.82,484.76 648.90,484.77 649.98,484.77 651.06,484.77 652.14,484.78 653.22,484.78 654.30,484.78 655.38,484.78 656.46,484.79 657.55,484.79 658.63,484.79 659.71,484.80 660.79,484.80 661.87,484.80 662.95,484.80 664.03,484.81 665.11,484.81 666.19,484.81 667.27,484.81 668.36,484.82 669.44,484.82 670.52,484.82 671.60,484.82 672.68,484.83 673.76,484.83" fill="none" stroke="#dd22dd" stroke-width="1.5" stroke-linejoin="round" />
<text x="475.70" y="452.70" font-size="12" font-weight="normal" text-anchor="middle" fill="#333">1</text>
<text x="488.60" y="443.40" font-size="12" font-weight="normal" text-anchor="middle" fill="#333">2</text>
<text x="502.60" y="467.20" font-size="12" font-weight="normal" text-anchor="middle" fill="#333">3</text>
<text x="503.62" y="429.80" font-size="11.97" font-weight="normal" textLength="52.30" lengthAdjust="spacingAndGlyphs">C-O/C-N</text>
<text x="434.68" y="458.90" font-size="13.48" font-weight="normal" textLength="25.05" lengthAdjust="spacingAndGlyphs">C-C</text>
<text x="520.01" y="464.90" font-size="13.18" font-weight="normal" textLength="39.67" lengthAdjust="spacingAndGlyphs">O-C-O</text>
<text x="2.96" y="12.54" font-size="13.89" font-weight="bold" textLength="17.09" lengthAdjust="spacingAndGlyphs">(a)</text>
<text x="344.65" y="12.69" font-size="13.67" font-weight="bold" textLength="17.99" lengthAdjust="spacingAndGlyphs">(b)</text>
<text x="10.46" y="283.67" font-size="14.22" font-weight="bold" textLength="16.18" lengthAdjust="spacingAndGlyphs">(c)</text>
<text x="345.25" y="283.47" font-size="14.22" font-weight="bold" textLength="18.10" lengthAdjust="spacingAndGlyphs">(d)</text>
<text x="-0.46" y="0" font-size="13.48" font-weight="bold" textLength="82.67" lengthAdjust="spacingAndGlyphs" transform="translate(10.70,159.60) rotate(-90)">Intensity(a.u.)</text>
<text x="-0.46" y="0" font-size="13.64" font-weight="bold" textLength="82.67" lengthAdjust="spacingAndGlyphs" transform="translate(355.60,159.60) rotate(-90)">Intensity(a.u.)</text>
<text x="-0.46" y="0" font-size="13.48" font-weight="bold" textLength="85.06" lengthAdjust="spacingAndGlyphs" transform="translate(17.70,426.40) rotate(-90)">Intensity&#160;(a.u.)</text>
<text x="-0.46" y="0" font-size="13.48" font-weight="bold" textLength="86.17" lengthAdjust="spacingAndGlyphs" transform="translate(358.50,429.50) rotate(-90)">Intensity&#160;(a.u.)</text>
</svg>
</body></html>
